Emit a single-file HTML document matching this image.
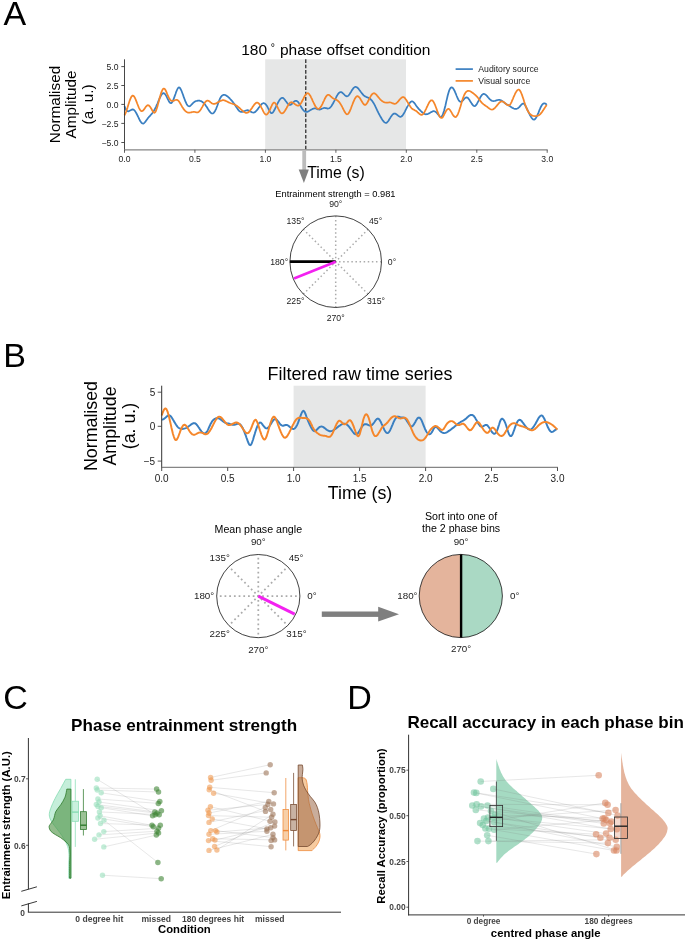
<!DOCTYPE html>
<html><head><meta charset="utf-8"><title>Figure</title>
<style>
html,body{margin:0;padding:0;background:#fff;}
body{width:685px;height:940px;overflow:hidden;font-family:"Liberation Sans",sans-serif;}
svg{display:block;font-family:"Liberation Sans",sans-serif;will-change:transform;}
</style></head><body>
<svg width="685" height="940" viewBox="0 0 685 940">
<rect width="685" height="940" fill="#fff"/>
<text x="3.4" y="24.8" font-size="34.00" text-anchor="start" font-weight="normal" fill="#000" >A</text>
<text x="335.8" y="54.5" font-size="15.50" text-anchor="middle" font-weight="normal" fill="#000" >180 <tspan font-size='10.5' dy='-3.6' dx='-0.5'>°</tspan><tspan dy='3.6' dx='0.6'> phase offset condition</tspan></text>
<rect x="265.2" y="59.3" width="140.8" height="90.5" fill="#e6e7e7"/>
<line x1="305.8" y1="59.3" x2="305.8" y2="149.8" stroke="#111" stroke-width="1.10" stroke-dasharray="3.6,1.8"/>
<path d="M124.5,106.1 L125.2,108.2 L126.0,109.8 L126.7,110.7 L127.5,111.2 L128.2,111.3 L129.0,111.1 L129.7,110.7 L130.5,110.3 L131.2,109.9 L132.0,109.6 L132.7,109.4 L133.5,109.6 L134.2,110.2 L135.0,111.0 L135.7,112.1 L136.5,113.5 L137.2,114.9 L138.0,116.5 L138.7,118.0 L139.5,119.6 L140.2,121.0 L141.0,122.1 L141.7,123.0 L142.5,123.5 L143.2,123.6 L144.0,123.2 L144.7,122.5 L145.5,121.6 L146.2,120.5 L147.0,119.4 L147.7,118.4 L148.5,117.5 L149.2,116.7 L150.0,115.9 L150.7,115.0 L151.5,114.2 L152.2,113.3 L153.0,112.2 L153.7,111.1 L154.5,109.8 L155.2,108.4 L156.0,106.8 L156.7,105.2 L157.5,103.5 L158.2,101.7 L159.0,99.9 L159.7,98.2 L160.5,96.6 L161.2,95.2 L162.0,94.1 L162.7,93.4 L163.5,93.2 L164.2,93.4 L165.0,94.1 L165.7,95.1 L166.5,96.4 L167.2,97.9 L168.0,99.5 L168.7,101.0 L169.5,102.2 L170.2,103.0 L171.0,103.2 L171.7,102.7 L172.5,101.7 L173.2,100.1 L174.0,98.2 L174.7,96.1 L175.5,94.0 L176.2,91.8 L177.0,90.0 L177.7,88.5 L178.5,87.6 L179.2,87.4 L180.0,88.0 L180.7,89.2 L181.5,90.8 L182.2,92.7 L183.0,94.8 L183.7,96.9 L184.5,99.0 L185.2,100.9 L186.0,102.7 L186.7,104.2 L187.5,105.3 L188.2,106.0 L189.0,106.3 L189.7,106.1 L190.5,105.7 L191.2,105.0 L192.0,104.2 L192.7,103.4 L193.5,102.7 L194.2,102.1 L195.0,101.6 L195.7,101.2 L196.5,101.0 L197.2,100.8 L198.0,100.6 L198.7,100.6 L199.5,100.7 L200.2,100.9 L201.0,101.1 L201.7,101.5 L202.5,102.0 L203.2,102.6 L204.0,103.4 L204.7,104.2 L205.5,105.1 L206.2,106.2 L207.0,107.3 L207.7,108.5 L208.5,109.7 L209.2,110.9 L210.0,111.9 L210.7,112.8 L211.5,113.3 L212.2,113.5 L213.0,113.4 L213.7,112.8 L214.5,111.9 L215.2,110.7 L216.0,109.1 L216.7,107.2 L217.5,105.2 L218.2,103.0 L219.0,101.0 L219.7,99.2 L220.5,97.7 L221.2,96.5 L222.0,95.7 L222.7,95.2 L223.5,94.9 L224.2,94.8 L225.0,95.0 L225.7,95.2 L226.5,95.7 L227.2,96.2 L228.0,96.8 L228.7,97.5 L229.5,98.2 L230.2,99.0 L231.0,99.8 L231.7,100.6 L232.5,101.5 L233.2,102.5 L234.0,103.5 L234.7,104.5 L235.5,105.7 L236.2,106.9 L237.0,108.0 L237.7,109.1 L238.5,110.1 L239.2,110.9 L240.0,111.4 L240.7,111.8 L241.5,111.9 L242.2,111.9 L243.0,111.7 L243.7,111.4 L244.5,111.1 L245.2,110.8 L246.0,110.5 L246.7,110.3 L247.5,110.2 L248.2,110.3 L249.0,110.6 L249.7,111.0 L250.5,111.5 L251.2,111.9 L252.0,112.3 L252.7,112.5 L253.5,112.6 L254.2,112.5 L255.0,112.1 L255.7,111.5 L256.5,110.7 L257.2,109.8 L258.0,108.9 L258.7,107.8 L259.5,106.8 L260.2,105.7 L261.0,104.8 L261.7,104.0 L262.5,103.5 L263.2,103.2 L264.0,103.2 L264.7,103.5 L265.5,104.1 L266.2,104.9 L267.0,106.0 L267.7,107.4 L268.5,108.9 L269.2,110.4 L270.0,111.7 L270.7,112.7 L271.5,113.1 L272.2,113.0 L273.0,112.3 L273.7,111.2 L274.5,109.8 L275.2,108.3 L276.0,106.7 L276.7,105.2 L277.5,103.6 L278.2,102.2 L279.0,100.9 L279.7,99.8 L280.5,98.8 L281.2,98.2 L282.0,97.9 L282.7,97.9 L283.5,98.3 L284.2,99.0 L285.0,100.0 L285.7,101.0 L286.5,102.0 L287.2,103.0 L288.0,103.9 L288.7,104.5 L289.5,104.9 L290.2,104.9 L291.0,104.6 L291.7,104.0 L292.5,103.3 L293.2,102.5 L294.0,101.7 L294.7,101.1 L295.5,100.8 L296.2,100.8 L297.0,101.1 L297.7,101.6 L298.5,102.5 L299.2,103.6 L300.0,104.8 L300.7,106.2 L301.5,107.5 L302.2,108.7 L303.0,109.7 L303.7,110.6 L304.5,111.2 L305.2,111.7 L306.0,111.9 L306.7,111.9 L307.5,111.8 L308.2,111.4 L309.0,111.0 L309.7,110.6 L310.5,110.1 L311.2,109.6 L312.0,109.2 L312.7,108.8 L313.5,108.6 L314.2,108.4 L315.0,108.4 L315.7,108.5 L316.5,108.8 L317.2,109.1 L318.0,109.3 L318.7,109.5 L319.5,109.6 L320.2,109.4 L321.0,109.2 L321.7,108.8 L322.5,108.5 L323.2,108.2 L324.0,108.0 L324.7,107.9 L325.5,108.1 L326.2,108.2 L327.0,108.4 L327.7,108.6 L328.5,108.5 L329.2,108.2 L330.0,107.7 L330.7,107.0 L331.5,106.0 L332.2,104.8 L333.0,103.5 L333.7,102.1 L334.5,100.6 L335.2,99.1 L336.0,97.6 L336.7,96.2 L337.5,94.9 L338.2,93.8 L339.0,92.9 L339.7,92.3 L340.5,92.1 L341.2,92.1 L342.0,92.5 L342.7,93.1 L343.5,93.8 L344.2,94.5 L345.0,95.3 L345.7,95.9 L346.5,96.3 L347.2,96.3 L348.0,96.0 L348.7,95.3 L349.5,94.3 L350.2,93.1 L351.0,91.9 L351.7,90.6 L352.5,89.4 L353.2,88.4 L354.0,87.6 L354.7,87.1 L355.5,86.9 L356.2,87.0 L357.0,87.4 L357.7,88.0 L358.5,88.7 L359.2,89.7 L360.0,90.7 L360.7,91.7 L361.5,92.7 L362.2,93.7 L363.0,94.6 L363.7,95.4 L364.5,96.0 L365.2,96.4 L366.0,96.8 L366.7,97.1 L367.5,97.4 L368.2,97.7 L369.0,98.1 L369.7,98.6 L370.5,99.1 L371.2,99.9 L372.0,100.7 L372.7,101.7 L373.5,102.9 L374.2,104.2 L375.0,105.7 L375.7,107.2 L376.5,108.8 L377.2,110.4 L378.0,112.0 L378.7,113.5 L379.5,114.9 L380.2,116.2 L381.0,117.5 L381.7,118.7 L382.5,119.9 L383.2,120.9 L384.0,121.8 L384.7,122.5 L385.5,122.8 L386.2,122.9 L387.0,122.4 L387.7,121.7 L388.5,120.7 L389.2,119.5 L390.0,118.3 L390.7,117.1 L391.5,116.0 L392.2,115.0 L393.0,114.2 L393.7,113.7 L394.5,113.5 L395.2,113.6 L396.0,114.0 L396.7,114.5 L397.5,115.1 L398.2,115.7 L399.0,116.3 L399.7,116.6 L400.5,116.8 L401.2,116.6 L402.0,116.1 L402.7,115.2 L403.5,114.1 L404.2,112.8 L405.0,111.3 L405.7,109.8 L406.5,108.4 L407.2,106.9 L408.0,105.6 L408.7,104.4 L409.5,103.3 L410.2,102.4 L411.0,101.7 L411.7,101.4 L412.5,101.4 L413.2,101.9 L414.0,102.6 L414.7,103.5 L415.5,104.6 L416.2,105.7 L417.0,106.7 L417.7,107.7 L418.5,108.6 L419.2,109.4 L420.0,110.2 L420.7,110.9 L421.5,111.6 L422.2,112.3 L423.0,112.9 L423.7,113.4 L424.5,113.9 L425.2,114.1 L426.0,114.3 L426.7,114.2 L427.5,114.1 L428.2,113.8 L429.0,113.4 L429.7,113.0 L430.5,112.5 L431.2,112.1 L432.0,111.7 L432.7,111.4 L433.5,111.2 L434.2,111.2 L435.0,111.5 L435.7,111.9 L436.5,112.5 L437.2,113.4 L438.0,114.3 L438.7,115.3 L439.5,116.2 L440.2,116.8 L441.0,116.9 L441.7,116.4 L442.5,115.2 L443.2,113.4 L444.0,111.0 L444.7,108.2 L445.5,105.2 L446.2,101.9 L447.0,98.6 L447.7,95.5 L448.5,92.7 L449.2,90.4 L450.0,88.8 L450.7,87.8 L451.5,87.4 L452.2,87.5 L453.0,88.2 L453.7,89.3 L454.5,90.7 L455.2,92.4 L456.0,94.2 L456.7,96.0 L457.5,97.8 L458.2,99.4 L459.0,100.7 L459.7,101.5 L460.5,101.8 L461.2,101.7 L462.0,101.3 L462.7,100.6 L463.5,99.8 L464.2,98.9 L465.0,98.2 L465.7,97.6 L466.5,97.4 L467.2,97.6 L468.0,98.1 L468.7,99.0 L469.5,100.0 L470.2,101.2 L471.0,102.4 L471.7,103.6 L472.5,104.6 L473.2,105.5 L474.0,106.0 L474.7,106.1 L475.5,105.7 L476.2,104.9 L477.0,103.7 L477.7,102.4 L478.5,100.9 L479.2,99.4 L480.0,98.0 L480.7,96.7 L481.5,95.5 L482.2,94.7 L483.0,94.1 L483.7,93.9 L484.5,94.0 L485.2,94.4 L486.0,95.0 L486.7,95.7 L487.5,96.6 L488.2,97.5 L489.0,98.3 L489.7,99.1 L490.5,99.8 L491.2,100.4 L492.0,100.8 L492.7,101.0 L493.5,101.1 L494.2,101.0 L495.0,100.8 L495.7,100.6 L496.5,100.4 L497.2,100.1 L498.0,100.0 L498.7,99.9 L499.5,99.9 L500.2,100.0 L501.0,100.3 L501.7,100.7 L502.5,101.2 L503.2,101.8 L504.0,102.4 L504.7,103.0 L505.5,103.5 L506.2,104.0 L507.0,104.5 L507.7,104.9 L508.5,105.3 L509.2,105.7 L510.0,106.2 L510.7,106.7 L511.5,107.2 L512.2,107.7 L513.0,108.1 L513.7,108.5 L514.5,108.8 L515.2,108.9 L516.0,108.9 L516.7,108.8 L517.5,108.5 L518.2,108.0 L519.0,107.4 L519.7,106.6 L520.5,105.7 L521.2,104.8 L522.0,104.1 L522.7,103.7 L523.5,103.6 L524.2,104.0 L525.0,105.0 L525.7,106.3 L526.5,107.8 L527.2,109.4 L528.0,111.0 L528.7,112.6 L529.5,114.1 L530.2,115.6 L531.0,116.9 L531.7,118.0 L532.5,118.9 L533.2,119.5 L534.0,119.7 L534.7,119.4 L535.5,118.6 L536.2,117.5 L537.0,116.1 L537.7,114.4 L538.5,112.6 L539.2,110.7 L540.0,108.9 L540.7,107.2 L541.5,105.8 L542.2,104.6 L543.0,103.8 L543.7,103.4 L544.5,103.3 L545.2,103.5 L546.0,104.0 L546.7,104.9" fill="none" stroke="#3a7fc1" stroke-width="1.75" stroke-linejoin="round"/>
<path d="M124.5,115.4 L125.2,113.9 L126.0,112.1 L126.7,109.9 L127.5,107.6 L128.2,105.2 L129.0,102.8 L129.7,100.6 L130.5,98.7 L131.2,97.1 L132.0,96.0 L132.7,95.6 L133.5,95.8 L134.2,96.6 L135.0,98.0 L135.7,99.7 L136.5,101.6 L137.2,103.5 L138.0,105.5 L138.7,107.3 L139.5,108.8 L140.2,110.1 L141.0,110.9 L141.7,111.2 L142.5,111.0 L143.2,110.4 L144.0,109.4 L144.7,108.4 L145.5,107.3 L146.2,106.3 L147.0,105.6 L147.7,105.2 L148.5,105.3 L149.2,105.8 L150.0,106.6 L150.7,107.7 L151.5,109.0 L152.2,110.4 L153.0,111.7 L153.7,112.5 L154.5,112.8 L155.2,112.2 L156.0,110.8 L156.7,108.7 L157.5,106.2 L158.2,103.4 L159.0,100.5 L159.7,97.7 L160.5,95.1 L161.2,92.7 L162.0,90.8 L162.7,89.4 L163.5,88.6 L164.2,88.6 L165.0,89.2 L165.7,90.5 L166.5,92.1 L167.2,94.0 L168.0,95.8 L168.7,97.4 L169.5,98.7 L170.2,99.8 L171.0,100.5 L171.7,100.9 L172.5,101.0 L173.2,100.9 L174.0,100.6 L174.7,100.3 L175.5,100.0 L176.2,99.9 L177.0,99.9 L177.7,100.2 L178.5,100.9 L179.2,101.8 L180.0,103.0 L180.7,104.3 L181.5,105.6 L182.2,106.9 L183.0,108.1 L183.7,109.2 L184.5,110.1 L185.2,110.9 L186.0,111.5 L186.7,112.0 L187.5,112.4 L188.2,112.6 L189.0,112.7 L189.7,112.6 L190.5,112.5 L191.2,112.3 L192.0,112.1 L192.7,112.0 L193.5,111.9 L194.2,111.9 L195.0,112.0 L195.7,112.2 L196.5,112.4 L197.2,112.4 L198.0,112.3 L198.7,111.9 L199.5,111.2 L200.2,110.3 L201.0,109.2 L201.7,107.9 L202.5,106.6 L203.2,105.2 L204.0,104.0 L204.7,102.8 L205.5,101.8 L206.2,101.1 L207.0,100.7 L207.7,100.6 L208.5,100.8 L209.2,101.2 L210.0,101.8 L210.7,102.4 L211.5,103.0 L212.2,103.5 L213.0,103.8 L213.7,103.9 L214.5,103.9 L215.2,103.7 L216.0,103.4 L216.7,103.0 L217.5,102.5 L218.2,102.1 L219.0,101.7 L219.7,101.2 L220.5,100.9 L221.2,100.6 L222.0,100.4 L222.7,100.2 L223.5,100.2 L224.2,100.3 L225.0,100.6 L225.7,100.9 L226.5,101.2 L227.2,101.6 L228.0,102.0 L228.7,102.4 L229.5,102.7 L230.2,103.0 L231.0,103.3 L231.7,103.5 L232.5,103.8 L233.2,104.0 L234.0,104.3 L234.7,104.6 L235.5,105.0 L236.2,105.4 L237.0,105.9 L237.7,106.5 L238.5,107.1 L239.2,107.8 L240.0,108.4 L240.7,109.1 L241.5,109.8 L242.2,110.5 L243.0,111.1 L243.7,111.7 L244.5,112.2 L245.2,112.6 L246.0,112.8 L246.7,112.9 L247.5,112.7 L248.2,112.4 L249.0,111.8 L249.7,111.0 L250.5,110.1 L251.2,109.1 L252.0,108.0 L252.7,106.8 L253.5,105.7 L254.2,104.7 L255.0,103.8 L255.7,103.1 L256.5,102.7 L257.2,102.6 L258.0,102.8 L258.7,103.4 L259.5,104.3 L260.2,105.5 L261.0,106.8 L261.7,108.2 L262.5,109.7 L263.2,111.2 L264.0,112.6 L264.7,113.7 L265.5,114.5 L266.2,114.7 L267.0,114.4 L267.7,113.7 L268.5,112.6 L269.2,111.2 L270.0,109.6 L270.7,107.9 L271.5,106.2 L272.2,104.6 L273.0,103.4 L273.7,102.7 L274.5,102.6 L275.2,103.2 L276.0,104.2 L276.7,105.6 L277.5,107.1 L278.2,108.7 L279.0,110.2 L279.7,111.5 L280.5,112.6 L281.2,113.2 L282.0,113.4 L282.7,113.2 L283.5,112.6 L284.2,111.8 L285.0,110.7 L285.7,109.5 L286.5,108.2 L287.2,106.8 L288.0,105.5 L288.7,104.3 L289.5,103.3 L290.2,102.6 L291.0,102.3 L291.7,102.2 L292.5,102.5 L293.2,102.9 L294.0,103.4 L294.7,104.0 L295.5,104.5 L296.2,105.0 L297.0,105.4 L297.7,105.6 L298.5,105.6 L299.2,105.3 L300.0,104.6 L300.7,103.6 L301.5,102.4 L302.2,101.0 L303.0,99.5 L303.7,98.0 L304.5,96.5 L305.2,95.3 L306.0,94.2 L306.7,93.5 L307.5,93.2 L308.2,93.3 L309.0,93.9 L309.7,94.9 L310.5,96.1 L311.2,97.6 L312.0,99.2 L312.7,100.8 L313.5,102.5 L314.2,104.0 L315.0,105.5 L315.7,106.8 L316.5,107.8 L317.2,108.4 L318.0,108.8 L318.7,108.8 L319.5,108.5 L320.2,107.7 L321.0,106.6 L321.7,105.3 L322.5,103.8 L323.2,102.2 L324.0,100.6 L324.7,99.0 L325.5,97.5 L326.2,96.3 L327.0,95.4 L327.7,94.8 L328.5,94.8 L329.2,95.0 L330.0,95.6 L330.7,96.3 L331.5,97.0 L332.2,97.7 L333.0,98.3 L333.7,98.7 L334.5,99.0 L335.2,99.3 L336.0,99.6 L336.7,100.0 L337.5,100.5 L338.2,101.1 L339.0,101.9 L339.7,102.8 L340.5,103.9 L341.2,105.1 L342.0,106.5 L342.7,108.0 L343.5,109.5 L344.2,111.0 L345.0,112.3 L345.7,113.4 L346.5,114.1 L347.2,114.3 L348.0,114.0 L348.7,113.1 L349.5,111.8 L350.2,110.2 L351.0,108.3 L351.7,106.3 L352.5,104.3 L353.2,102.4 L354.0,100.6 L354.7,99.0 L355.5,97.7 L356.2,96.7 L357.0,96.2 L357.7,96.2 L358.5,96.6 L359.2,97.3 L360.0,98.3 L360.7,99.5 L361.5,100.8 L362.2,102.1 L363.0,103.3 L363.7,104.2 L364.5,104.8 L365.2,104.9 L366.0,104.4 L366.7,103.6 L367.5,102.4 L368.2,101.0 L369.0,99.5 L369.7,98.0 L370.5,96.6 L371.2,95.4 L372.0,94.4 L372.7,93.7 L373.5,93.3 L374.2,93.2 L375.0,93.6 L375.7,94.1 L376.5,94.9 L377.2,95.8 L378.0,96.7 L378.7,97.7 L379.5,98.5 L380.2,99.3 L381.0,100.1 L381.7,100.7 L382.5,101.3 L383.2,101.7 L384.0,102.1 L384.7,102.3 L385.5,102.5 L386.2,102.5 L387.0,102.6 L387.7,102.5 L388.5,102.5 L389.2,102.4 L390.0,102.4 L390.7,102.5 L391.5,102.8 L392.2,103.1 L393.0,103.4 L393.7,103.7 L394.5,103.8 L395.2,103.8 L396.0,103.5 L396.7,102.9 L397.5,102.2 L398.2,101.4 L399.0,100.4 L399.7,99.5 L400.5,98.7 L401.2,98.0 L402.0,97.4 L402.7,97.1 L403.5,97.1 L404.2,97.5 L405.0,98.2 L405.7,99.2 L406.5,100.3 L407.2,101.5 L408.0,102.8 L408.7,104.1 L409.5,105.3 L410.2,106.4 L411.0,107.5 L411.7,108.3 L412.5,109.0 L413.2,109.4 L414.0,109.8 L414.7,110.2 L415.5,110.6 L416.2,111.0 L417.0,111.6 L417.7,112.3 L418.5,113.0 L419.2,113.7 L420.0,114.3 L420.7,114.7 L421.5,114.9 L422.2,114.7 L423.0,114.1 L423.7,113.2 L424.5,112.0 L425.2,110.7 L426.0,109.1 L426.7,107.5 L427.5,105.9 L428.2,104.3 L429.0,102.8 L429.7,101.6 L430.5,100.8 L431.2,100.3 L432.0,100.3 L432.7,100.8 L433.5,101.8 L434.2,103.1 L435.0,104.8 L435.7,106.7 L436.5,108.8 L437.2,110.9 L438.0,112.9 L438.7,114.7 L439.5,116.1 L440.2,117.2 L441.0,117.8 L441.7,117.9 L442.5,117.4 L443.2,116.4 L444.0,115.0 L444.7,113.5 L445.5,112.0 L446.2,110.7 L447.0,109.7 L447.7,109.0 L448.5,108.8 L449.2,109.2 L450.0,110.0 L450.7,111.1 L451.5,112.4 L452.2,113.7 L453.0,115.0 L453.7,116.0 L454.5,116.7 L455.2,117.1 L456.0,116.9 L456.7,116.1 L457.5,114.9 L458.2,113.3 L459.0,111.3 L459.7,109.0 L460.5,106.5 L461.2,103.9 L462.0,101.3 L462.7,98.9 L463.5,96.8 L464.2,95.0 L465.0,93.5 L465.7,92.4 L466.5,91.6 L467.2,91.1 L468.0,90.8 L468.7,90.8 L469.5,91.0 L470.2,91.3 L471.0,91.7 L471.7,92.3 L472.5,92.8 L473.2,93.3 L474.0,93.9 L474.7,94.5 L475.5,95.1 L476.2,95.8 L477.0,96.6 L477.7,97.5 L478.5,98.4 L479.2,99.4 L480.0,100.4 L480.7,101.4 L481.5,102.3 L482.2,103.1 L483.0,103.8 L483.7,104.4 L484.5,105.0 L485.2,105.6 L486.0,106.1 L486.7,106.6 L487.5,107.1 L488.2,107.7 L489.0,108.3 L489.7,108.8 L490.5,109.2 L491.2,109.5 L492.0,109.6 L492.7,109.5 L493.5,109.1 L494.2,108.5 L495.0,107.9 L495.7,107.0 L496.5,106.2 L497.2,105.2 L498.0,104.3 L498.7,103.4 L499.5,102.6 L500.2,102.0 L501.0,101.6 L501.7,101.4 L502.5,101.5 L503.2,101.8 L504.0,102.2 L504.7,102.8 L505.5,103.5 L506.2,104.2 L507.0,104.8 L507.7,105.2 L508.5,105.4 L509.2,105.3 L510.0,104.7 L510.7,103.6 L511.5,102.1 L512.2,100.4 L513.0,98.6 L513.7,96.8 L514.5,95.1 L515.2,93.5 L516.0,92.1 L516.7,91.0 L517.5,90.1 L518.2,89.6 L519.0,89.6 L519.7,90.2 L520.5,91.4 L521.2,93.0 L522.0,94.9 L522.7,97.0 L523.5,99.3 L524.2,101.7 L525.0,104.0 L525.7,106.2 L526.5,108.1 L527.2,109.8 L528.0,111.2 L528.7,112.4 L529.5,113.4 L530.2,114.2 L531.0,114.8 L531.7,115.3 L532.5,115.7 L533.2,115.9 L534.0,116.0 L534.7,116.1 L535.5,116.1 L536.2,116.0 L537.0,115.9 L537.7,115.7 L538.5,115.4 L539.2,115.0 L540.0,114.4 L540.7,113.6 L541.5,112.7 L542.2,111.7 L543.0,110.6 L543.7,109.4 L544.5,108.2 L545.2,107.1 L546.0,105.9 L546.7,104.9" fill="none" stroke="#f5862a" stroke-width="1.75" stroke-linejoin="round"/>
<line x1="124.5" y1="59.3" x2="124.5" y2="150.4" stroke="#333" stroke-width="0.90" />
<line x1="124.1" y1="149.8" x2="547.6" y2="149.8" stroke="#858585" stroke-width="1.25" />
<line x1="121.3" y1="66.6" x2="124.5" y2="66.6" stroke="#333" stroke-width="0.85" />
<text x="118.5" y="69.9" font-size="8.60" text-anchor="end" font-weight="normal" fill="#222" >5.0</text>
<line x1="121.3" y1="85.5" x2="124.5" y2="85.5" stroke="#333" stroke-width="0.85" />
<text x="118.5" y="88.8" font-size="8.60" text-anchor="end" font-weight="normal" fill="#222" >2.5</text>
<line x1="121.3" y1="104.4" x2="124.5" y2="104.4" stroke="#333" stroke-width="0.85" />
<text x="118.5" y="107.7" font-size="8.60" text-anchor="end" font-weight="normal" fill="#222" >0.0</text>
<line x1="121.3" y1="123.4" x2="124.5" y2="123.4" stroke="#333" stroke-width="0.85" />
<text x="118.5" y="126.7" font-size="8.60" text-anchor="end" font-weight="normal" fill="#222" >−2.5</text>
<line x1="121.3" y1="142.5" x2="124.5" y2="142.5" stroke="#333" stroke-width="0.85" />
<text x="118.5" y="145.8" font-size="8.60" text-anchor="end" font-weight="normal" fill="#222" >−5.0</text>
<line x1="124.5" y1="149.8" x2="124.5" y2="152.8" stroke="#444" stroke-width="0.85" />
<text x="124.5" y="161.8" font-size="8.60" text-anchor="middle" font-weight="normal" fill="#222" >0.0</text>
<line x1="194.9" y1="149.8" x2="194.9" y2="152.8" stroke="#444" stroke-width="0.85" />
<text x="194.9" y="161.8" font-size="8.60" text-anchor="middle" font-weight="normal" fill="#222" >0.5</text>
<line x1="265.4" y1="149.8" x2="265.4" y2="152.8" stroke="#444" stroke-width="0.85" />
<text x="265.4" y="161.8" font-size="8.60" text-anchor="middle" font-weight="normal" fill="#222" >1.0</text>
<line x1="335.9" y1="149.8" x2="335.9" y2="152.8" stroke="#444" stroke-width="0.85" />
<text x="335.9" y="161.8" font-size="8.60" text-anchor="middle" font-weight="normal" fill="#222" >1.5</text>
<line x1="406.3" y1="149.8" x2="406.3" y2="152.8" stroke="#444" stroke-width="0.85" />
<text x="406.3" y="161.8" font-size="8.60" text-anchor="middle" font-weight="normal" fill="#222" >2.0</text>
<line x1="476.8" y1="149.8" x2="476.8" y2="152.8" stroke="#444" stroke-width="0.85" />
<text x="476.8" y="161.8" font-size="8.60" text-anchor="middle" font-weight="normal" fill="#222" >2.5</text>
<line x1="547.2" y1="149.8" x2="547.2" y2="152.8" stroke="#444" stroke-width="0.85" />
<text x="547.2" y="161.8" font-size="8.60" text-anchor="middle" font-weight="normal" fill="#222" >3.0</text>
<text transform="translate(59.8,104.5) rotate(-90)" font-size="15.30" text-anchor="middle" font-weight="normal" fill="#000" >Normalised</text>
<text transform="translate(76.2,104.5) rotate(-90)" font-size="15.30" text-anchor="middle" font-weight="normal" fill="#000" >Amplitude</text>
<text transform="translate(93.3,104.5) rotate(-90)" font-size="15.30" text-anchor="middle" font-weight="normal" fill="#000" >(a. u.)</text>
<line x1="455.6" y1="69.1" x2="472.9" y2="69.1" stroke="#3a7fc1" stroke-width="1.70" />
<line x1="455.6" y1="80.9" x2="472.9" y2="80.9" stroke="#f5862a" stroke-width="1.70" />
<text x="478.3" y="72.2" font-size="8.70" text-anchor="start" font-weight="normal" fill="#222" >Auditory source</text>
<text x="478.3" y="84.0" font-size="8.70" text-anchor="start" font-weight="normal" fill="#222" >Visual source</text>
<rect x="302.3" y="150.3" width="3.8" height="19.8" fill="#bcbcbc"/>
<path d="M298.7,169.6 L308.9,169.6 L303.9,182.9 Z" fill="#7f7f7f"/>
<text x="307.2" y="177.5" font-size="15.85" text-anchor="start" font-weight="normal" fill="#000" >Time (s)</text>
<text x="335.4" y="197.0" font-size="9.30" text-anchor="middle" font-weight="normal" fill="#000" >Entrainment strength = 0.981</text>
<line x1="335.7" y1="261.7" x2="381.5" y2="261.7" stroke="#ababab" stroke-width="1.50" stroke-dasharray="1.50,2.60" stroke-dashoffset="0.75"/>
<line x1="335.7" y1="261.7" x2="368.1" y2="229.3" stroke="#ababab" stroke-width="1.50" stroke-dasharray="1.50,2.60" stroke-dashoffset="0.75"/>
<line x1="335.7" y1="261.7" x2="335.7" y2="215.9" stroke="#ababab" stroke-width="1.50" stroke-dasharray="1.50,2.60" stroke-dashoffset="0.75"/>
<line x1="335.7" y1="261.7" x2="303.3" y2="229.3" stroke="#ababab" stroke-width="1.50" stroke-dasharray="1.50,2.60" stroke-dashoffset="0.75"/>
<line x1="335.7" y1="261.7" x2="289.9" y2="261.7" stroke="#ababab" stroke-width="1.50" stroke-dasharray="1.50,2.60" stroke-dashoffset="0.75"/>
<line x1="335.7" y1="261.7" x2="303.3" y2="294.1" stroke="#ababab" stroke-width="1.50" stroke-dasharray="1.50,2.60" stroke-dashoffset="0.75"/>
<line x1="335.7" y1="261.7" x2="335.7" y2="307.5" stroke="#ababab" stroke-width="1.50" stroke-dasharray="1.50,2.60" stroke-dashoffset="0.75"/>
<line x1="335.7" y1="261.7" x2="368.1" y2="294.1" stroke="#ababab" stroke-width="1.50" stroke-dasharray="1.50,2.60" stroke-dashoffset="0.75"/>
<line x1="335.7" y1="261.7" x2="289.9" y2="261.7" stroke="#000" stroke-width="2.80" />
<line x1="335.7" y1="261.7" x2="294.0" y2="278.5" stroke="#f321f0" stroke-width="2.60" />
<circle cx="335.7" cy="261.7" r="45.8" fill="none" stroke="#111" stroke-width="0.8"/>
<text x="335.7" y="207.3" font-size="8.70" text-anchor="middle" font-weight="normal" fill="#222" >90°</text>
<text x="295.5" y="224.1" font-size="8.70" text-anchor="middle" font-weight="normal" fill="#222" >135°</text>
<text x="375.6" y="224.1" font-size="8.70" text-anchor="middle" font-weight="normal" fill="#222" >45°</text>
<text x="279.2" y="264.5" font-size="8.70" text-anchor="middle" font-weight="normal" fill="#222" >180°</text>
<text x="392.0" y="264.5" font-size="8.70" text-anchor="middle" font-weight="normal" fill="#222" >0°</text>
<text x="295.5" y="304.4" font-size="8.70" text-anchor="middle" font-weight="normal" fill="#222" >225°</text>
<text x="376.0" y="304.4" font-size="8.70" text-anchor="middle" font-weight="normal" fill="#222" >315°</text>
<text x="335.7" y="320.7" font-size="8.70" text-anchor="middle" font-weight="normal" fill="#222" >270°</text>
<text x="3.3" y="367.0" font-size="34.00" text-anchor="start" font-weight="normal" fill="#000" >B</text>
<rect x="293.6" y="385.7" width="132" height="81.7" fill="#e6e7e7"/>
<path d="M161.7,419.5 L162.4,419.6 L163.2,419.4 L163.9,418.9 L164.7,418.3 L165.4,417.7 L166.2,417.0 L166.9,416.3 L167.7,415.8 L168.4,415.4 L169.2,415.3 L169.9,415.6 L170.7,416.2 L171.4,417.1 L172.2,418.2 L172.9,419.5 L173.7,420.8 L174.4,422.1 L175.2,423.3 L175.9,424.5 L176.7,425.6 L177.4,426.6 L178.2,427.4 L178.9,428.0 L179.7,428.4 L180.4,428.7 L181.2,428.8 L181.9,428.9 L182.7,428.9 L183.4,428.8 L184.2,428.6 L184.9,428.4 L185.7,428.1 L186.4,427.8 L187.2,427.3 L187.9,426.9 L188.7,426.3 L189.4,425.8 L190.2,425.2 L190.9,424.6 L191.7,424.1 L192.4,423.7 L193.2,423.3 L193.9,423.1 L194.7,423.2 L195.4,423.5 L196.2,424.1 L196.9,425.0 L197.7,425.9 L198.4,427.0 L199.2,428.1 L199.9,429.3 L200.7,430.3 L201.4,431.3 L202.2,432.2 L202.9,432.9 L203.7,433.3 L204.4,433.4 L205.2,433.3 L205.9,432.8 L206.7,432.0 L207.4,430.9 L208.2,429.4 L208.9,427.7 L209.7,426.0 L210.4,424.3 L211.2,422.9 L211.9,421.7 L212.7,420.7 L213.4,419.9 L214.2,419.3 L214.9,418.8 L215.7,418.5 L216.4,418.3 L217.2,418.2 L217.9,418.2 L218.7,418.4 L219.4,418.7 L220.2,419.1 L220.9,419.6 L221.7,420.2 L222.4,420.9 L223.2,421.5 L223.9,422.0 L224.7,422.5 L225.4,422.9 L226.2,423.1 L226.9,423.3 L227.7,423.4 L228.4,423.5 L229.2,423.7 L229.9,423.9 L230.7,424.1 L231.4,424.4 L232.2,424.7 L232.9,424.8 L233.7,424.9 L234.4,424.8 L235.2,424.6 L235.9,424.3 L236.7,424.0 L237.4,423.8 L238.2,423.7 L238.9,423.8 L239.7,424.1 L240.4,424.7 L241.2,425.6 L241.9,426.7 L242.7,428.0 L243.4,429.6 L244.2,431.4 L244.9,433.3 L245.7,435.3 L246.4,437.5 L247.2,439.6 L247.9,441.7 L248.7,443.5 L249.4,444.7 L250.2,445.2 L250.9,444.8 L251.7,443.5 L252.4,441.5 L253.2,439.2 L253.9,436.6 L254.7,434.1 L255.4,431.7 L256.2,429.4 L256.9,427.3 L257.7,425.5 L258.4,424.0 L259.2,423.0 L259.9,422.5 L260.7,422.6 L261.4,423.2 L262.2,424.1 L262.9,425.1 L263.7,426.1 L264.4,427.0 L265.2,427.8 L265.9,428.2 L266.7,428.4 L267.4,428.2 L268.2,427.7 L268.9,426.9 L269.7,425.8 L270.4,424.7 L271.2,423.4 L271.9,422.2 L272.7,421.1 L273.4,420.1 L274.2,419.4 L274.9,419.1 L275.7,419.1 L276.4,419.6 L277.2,420.3 L277.9,421.1 L278.7,422.1 L279.4,423.1 L280.2,424.1 L280.9,424.9 L281.7,425.4 L282.4,425.7 L283.2,425.7 L283.9,425.5 L284.7,425.3 L285.4,425.0 L286.2,424.9 L286.9,425.0 L287.7,425.3 L288.4,425.8 L289.2,426.4 L289.9,427.0 L290.7,427.7 L291.4,428.2 L292.2,428.6 L292.9,428.9 L293.7,428.9 L294.4,428.6 L295.2,428.0 L295.9,427.1 L296.7,425.8 L297.4,424.3 L298.2,422.4 L298.9,420.4 L299.7,418.3 L300.4,416.2 L301.2,414.2 L301.9,412.5 L302.7,411.3 L303.4,410.8 L304.2,411.3 L304.9,412.6 L305.7,414.5 L306.4,416.5 L307.2,418.6 L307.9,420.5 L308.7,422.3 L309.4,424.0 L310.2,425.6 L310.9,427.1 L311.7,428.4 L312.4,429.6 L313.2,430.5 L313.9,431.0 L314.7,431.2 L315.4,430.9 L316.2,430.4 L316.9,429.6 L317.7,428.8 L318.4,428.0 L319.2,427.4 L319.9,426.9 L320.7,426.6 L321.4,426.5 L322.2,426.6 L322.9,426.9 L323.7,427.4 L324.4,427.9 L325.2,428.5 L325.9,429.1 L326.7,429.7 L327.4,430.2 L328.2,430.6 L328.9,431.0 L329.7,431.2 L330.4,431.2 L331.2,431.1 L331.9,430.9 L332.7,430.6 L333.4,430.2 L334.2,429.7 L334.9,429.2 L335.7,428.6 L336.4,428.1 L337.2,427.5 L337.9,426.9 L338.7,426.3 L339.4,425.8 L340.2,425.3 L340.9,424.8 L341.7,424.4 L342.4,424.0 L343.2,423.8 L343.9,423.7 L344.7,423.7 L345.4,423.9 L346.2,424.2 L346.9,424.7 L347.7,425.3 L348.4,426.0 L349.2,426.9 L349.9,427.8 L350.7,428.8 L351.4,429.9 L352.2,431.0 L352.9,432.0 L353.7,433.0 L354.4,433.7 L355.2,434.2 L355.9,434.3 L356.7,434.1 L357.4,433.6 L358.2,432.9 L358.9,431.9 L359.7,430.6 L360.4,429.3 L361.2,428.0 L361.9,426.7 L362.7,425.7 L363.4,425.0 L364.2,424.5 L364.9,424.2 L365.7,424.1 L366.4,424.2 L367.2,424.5 L367.9,424.8 L368.7,425.2 L369.4,425.5 L370.2,425.6 L370.9,425.5 L371.7,425.2 L372.4,424.5 L373.2,423.7 L373.9,422.8 L374.7,421.7 L375.4,420.6 L376.2,419.6 L376.9,418.9 L377.7,418.6 L378.4,418.8 L379.2,419.4 L379.9,420.4 L380.7,421.7 L381.4,423.3 L382.2,425.0 L382.9,426.7 L383.7,428.4 L384.4,429.9 L385.2,431.3 L385.9,432.3 L386.7,432.9 L387.4,433.1 L388.2,432.8 L388.9,432.1 L389.7,431.0 L390.4,429.6 L391.2,427.9 L391.9,426.2 L392.7,424.3 L393.4,422.5 L394.2,420.9 L394.9,419.5 L395.7,418.3 L396.4,417.4 L397.2,416.8 L397.9,416.6 L398.7,416.7 L399.4,416.9 L400.2,417.2 L400.9,417.4 L401.7,417.5 L402.4,417.5 L403.2,417.5 L403.9,417.6 L404.7,418.0 L405.4,418.8 L406.2,419.7 L406.9,420.9 L407.7,422.1 L408.4,423.3 L409.2,424.5 L409.9,425.5 L410.7,426.2 L411.4,426.5 L412.2,426.3 L412.9,425.7 L413.7,424.7 L414.4,423.5 L415.2,422.2 L415.9,420.8 L416.7,419.5 L417.4,418.4 L418.2,417.8 L418.9,417.6 L419.7,417.8 L420.4,418.5 L421.2,419.7 L421.9,421.2 L422.7,423.1 L423.4,425.0 L424.2,426.9 L424.9,428.7 L425.7,430.3 L426.4,431.7 L427.2,432.8 L427.9,433.6 L428.7,434.2 L429.4,434.3 L430.2,434.1 L430.9,433.5 L431.7,432.5 L432.4,431.2 L433.2,429.7 L433.9,428.4 L434.7,427.4 L435.4,426.9 L436.2,426.9 L436.9,427.4 L437.7,428.1 L438.4,429.0 L439.2,429.9 L439.9,430.7 L440.7,431.5 L441.4,432.1 L442.2,432.5 L442.9,432.9 L443.7,433.0 L444.4,433.1 L445.2,432.9 L445.9,432.7 L446.7,432.3 L447.4,431.9 L448.2,431.4 L448.9,430.9 L449.7,430.4 L450.4,429.9 L451.2,429.3 L451.9,428.7 L452.7,428.2 L453.4,427.6 L454.2,427.0 L454.9,426.3 L455.7,425.7 L456.4,425.1 L457.2,424.4 L457.9,423.8 L458.7,423.3 L459.4,422.7 L460.2,422.3 L460.9,421.8 L461.7,421.4 L462.4,421.0 L463.2,420.6 L463.9,420.2 L464.7,419.7 L465.4,419.1 L466.2,418.5 L466.9,417.8 L467.7,417.1 L468.4,416.4 L469.2,415.8 L469.9,415.3 L470.7,415.0 L471.4,414.9 L472.2,415.0 L472.9,415.3 L473.7,415.9 L474.4,416.8 L475.2,417.9 L475.9,419.2 L476.7,420.5 L477.4,421.9 L478.2,423.2 L478.9,424.5 L479.7,425.5 L480.4,426.2 L481.2,426.6 L481.9,426.6 L482.7,426.5 L483.4,426.1 L484.2,425.7 L484.9,425.2 L485.7,424.9 L486.4,424.9 L487.2,425.2 L487.9,426.0 L488.7,427.0 L489.4,428.1 L490.2,429.3 L490.9,430.5 L491.7,431.6 L492.4,432.6 L493.2,433.3 L493.9,433.8 L494.7,433.8 L495.4,433.3 L496.2,432.3 L496.9,430.8 L497.7,428.9 L498.4,426.6 L499.2,424.2 L499.9,421.8 L500.7,420.0 L501.4,419.0 L502.2,418.7 L502.9,419.1 L503.7,419.9 L504.4,421.1 L505.2,422.8 L505.9,424.8 L506.7,427.2 L507.4,429.6 L508.2,432.0 L508.9,433.9 L509.7,435.3 L510.4,436.1 L511.2,436.1 L511.9,435.3 L512.7,433.9 L513.4,432.0 L514.2,429.9 L514.9,427.7 L515.7,425.6 L516.4,423.7 L517.2,422.1 L517.9,420.9 L518.7,420.1 L519.4,419.8 L520.2,419.9 L520.9,420.4 L521.7,421.1 L522.4,422.1 L523.2,423.1 L523.9,424.2 L524.7,425.2 L525.4,426.2 L526.2,427.1 L526.9,427.9 L527.7,428.6 L528.4,429.1 L529.2,429.5 L529.9,429.6 L530.7,429.4 L531.4,429.0 L532.2,428.5 L532.9,427.7 L533.7,426.7 L534.4,425.6 L535.2,424.3 L535.9,423.0 L536.7,421.6 L537.4,420.2 L538.2,418.8 L538.9,417.6 L539.7,416.6 L540.4,415.9 L541.2,415.5 L541.9,415.5 L542.7,416.1 L543.4,417.2 L544.2,418.5 L544.9,420.1 L545.7,421.9 L546.4,423.7 L547.2,425.6 L547.9,427.3 L548.7,428.8 L549.4,430.1 L550.2,431.1 L550.9,431.7 L551.7,432.0 L552.4,431.9 L553.2,431.6 L553.9,431.0 L554.7,430.4 L555.4,429.8 L556.2,429.3 L556.9,428.9 L557.3,428.9" fill="none" stroke="#3a7fc1" stroke-width="1.95" stroke-linejoin="round"/>
<path d="M161.7,415.5 L162.4,413.4 L163.2,411.4 L163.9,409.9 L164.7,408.8 L165.4,408.4 L166.2,408.8 L166.9,410.1 L167.7,412.0 L168.4,414.6 L169.2,417.5 L169.9,420.7 L170.7,424.1 L171.4,427.4 L172.2,430.7 L172.9,433.7 L173.7,436.3 L174.4,438.3 L175.2,439.7 L175.9,440.1 L176.7,439.7 L177.4,438.6 L178.2,436.9 L178.9,435.0 L179.7,432.9 L180.4,430.9 L181.2,429.0 L181.9,427.4 L182.7,426.1 L183.4,425.2 L184.2,424.8 L184.9,424.8 L185.7,425.3 L186.4,426.2 L187.2,427.3 L187.9,428.5 L188.7,429.8 L189.4,431.0 L190.2,432.1 L190.9,433.0 L191.7,433.8 L192.4,434.4 L193.2,434.7 L193.9,434.8 L194.7,434.7 L195.4,434.4 L196.2,434.0 L196.9,433.6 L197.7,433.2 L198.4,432.8 L199.2,432.6 L199.9,432.5 L200.7,432.5 L201.4,432.6 L202.2,432.9 L202.9,433.2 L203.7,433.6 L204.4,434.0 L205.2,434.2 L205.9,434.2 L206.7,434.1 L207.4,433.7 L208.2,433.1 L208.9,432.2 L209.7,431.2 L210.4,430.1 L211.2,428.8 L211.9,427.3 L212.7,425.8 L213.4,424.3 L214.2,422.8 L214.9,421.4 L215.7,420.1 L216.4,418.9 L217.2,417.9 L217.9,417.2 L218.7,416.8 L219.4,416.7 L220.2,416.9 L220.9,417.3 L221.7,418.0 L222.4,418.8 L223.2,419.7 L223.9,420.7 L224.7,421.6 L225.4,422.5 L226.2,423.4 L226.9,424.1 L227.7,424.6 L228.4,425.0 L229.2,425.1 L229.9,425.0 L230.7,424.8 L231.4,424.5 L232.2,424.1 L232.9,423.7 L233.7,423.3 L234.4,423.0 L235.2,422.7 L235.9,422.5 L236.7,422.5 L237.4,422.7 L238.2,423.1 L238.9,423.6 L239.7,424.3 L240.4,425.2 L241.2,426.2 L241.9,427.3 L242.7,428.4 L243.4,429.5 L244.2,430.6 L244.9,431.6 L245.7,432.4 L246.4,433.0 L247.2,433.2 L247.9,433.1 L248.7,432.6 L249.4,431.7 L250.2,430.4 L250.9,428.9 L251.7,427.0 L252.4,425.0 L253.2,423.1 L253.9,421.4 L254.7,420.2 L255.4,419.7 L256.2,420.2 L256.9,421.4 L257.7,423.3 L258.4,425.5 L259.2,427.9 L259.9,430.3 L260.7,432.6 L261.4,434.8 L262.2,436.7 L262.9,438.2 L263.7,439.2 L264.4,439.6 L265.2,439.1 L265.9,437.9 L266.7,436.0 L267.4,433.7 L268.2,431.1 L268.9,428.4 L269.7,425.8 L270.4,423.3 L271.2,421.0 L271.9,419.1 L272.7,417.7 L273.4,416.8 L274.2,416.7 L274.9,417.3 L275.7,418.6 L276.4,420.3 L277.2,422.2 L277.9,424.3 L278.7,426.4 L279.4,428.4 L280.2,430.4 L280.9,432.2 L281.7,433.9 L282.4,435.3 L283.2,436.4 L283.9,437.3 L284.7,437.7 L285.4,437.7 L286.2,437.2 L286.9,436.5 L287.7,435.4 L288.4,434.1 L289.2,432.7 L289.9,431.2 L290.7,429.6 L291.4,428.0 L292.2,426.5 L292.9,424.9 L293.7,423.5 L294.4,422.1 L295.2,420.9 L295.9,419.9 L296.7,419.0 L297.4,418.4 L298.2,418.0 L298.9,417.8 L299.7,417.7 L300.4,417.8 L301.2,417.8 L301.9,417.9 L302.7,417.9 L303.4,417.9 L304.2,417.9 L304.9,418.0 L305.7,418.1 L306.4,418.3 L307.2,418.7 L307.9,419.1 L308.7,419.8 L309.4,420.7 L310.2,421.9 L310.9,423.4 L311.7,425.0 L312.4,426.6 L313.2,428.1 L313.9,429.3 L314.7,430.4 L315.4,431.3 L316.2,432.0 L316.9,432.7 L317.7,433.3 L318.4,433.8 L319.2,434.3 L319.9,434.8 L320.7,435.1 L321.4,435.4 L322.2,435.5 L322.9,435.6 L323.7,435.7 L324.4,435.8 L325.2,435.9 L325.9,436.0 L326.7,436.3 L327.4,436.6 L328.2,436.8 L328.9,436.9 L329.7,436.8 L330.4,436.4 L331.2,435.6 L331.9,434.4 L332.7,433.0 L333.4,431.4 L334.2,429.6 L334.9,427.8 L335.7,426.0 L336.4,424.3 L337.2,422.9 L337.9,421.7 L338.7,421.0 L339.4,420.7 L340.2,420.9 L340.9,421.5 L341.7,422.3 L342.4,423.1 L343.2,423.8 L343.9,424.2 L344.7,424.3 L345.4,424.1 L346.2,423.6 L346.9,422.8 L347.7,421.8 L348.4,421.0 L349.2,420.4 L349.9,420.2 L350.7,420.6 L351.4,421.6 L352.2,422.9 L352.9,424.6 L353.7,426.5 L354.4,428.6 L355.2,430.7 L355.9,432.7 L356.7,434.5 L357.4,435.7 L358.2,436.3 L358.9,435.8 L359.7,434.2 L360.4,431.7 L361.2,428.7 L361.9,425.4 L362.7,422.2 L363.4,419.3 L364.2,417.0 L364.9,415.3 L365.7,414.4 L366.4,414.3 L367.2,414.9 L367.9,416.1 L368.7,417.9 L369.4,420.3 L370.2,423.0 L370.9,426.0 L371.7,428.9 L372.4,431.4 L373.2,433.4 L373.9,434.8 L374.7,435.8 L375.4,436.1 L376.2,436.1 L376.9,435.5 L377.7,434.7 L378.4,433.6 L379.2,432.3 L379.9,431.0 L380.7,429.7 L381.4,428.4 L382.2,427.3 L382.9,426.5 L383.7,425.8 L384.4,425.2 L385.2,424.7 L385.9,424.0 L386.7,423.3 L387.4,422.5 L388.2,421.6 L388.9,420.6 L389.7,419.7 L390.4,418.8 L391.2,418.0 L391.9,417.3 L392.7,416.8 L393.4,416.4 L394.2,416.3 L394.9,416.3 L395.7,416.5 L396.4,416.8 L397.2,417.2 L397.9,417.6 L398.7,418.0 L399.4,418.3 L400.2,418.4 L400.9,418.4 L401.7,418.3 L402.4,418.1 L403.2,417.9 L403.9,417.8 L404.7,417.8 L405.4,418.0 L406.2,418.5 L406.9,419.2 L407.7,420.3 L408.4,421.8 L409.2,423.4 L409.9,425.2 L410.7,427.0 L411.4,428.9 L412.2,430.7 L412.9,432.4 L413.7,434.0 L414.4,435.4 L415.2,436.5 L415.9,437.5 L416.7,438.3 L417.4,439.0 L418.2,439.6 L418.9,440.0 L419.7,440.3 L420.4,440.5 L421.2,440.5 L421.9,440.4 L422.7,440.2 L423.4,439.8 L424.2,439.2 L424.9,438.4 L425.7,437.5 L426.4,436.3 L427.2,435.0 L427.9,433.7 L428.7,432.4 L429.4,431.2 L430.2,430.1 L430.9,429.2 L431.7,428.4 L432.4,427.7 L433.2,427.0 L433.9,426.6 L434.7,426.2 L435.4,426.0 L436.2,426.1 L436.9,426.4 L437.7,426.9 L438.4,427.5 L439.2,428.1 L439.9,428.8 L440.7,429.4 L441.4,429.8 L442.2,429.9 L442.9,429.6 L443.7,428.9 L444.4,427.8 L445.2,426.5 L445.9,425.3 L446.7,424.1 L447.4,423.2 L448.2,422.5 L448.9,421.9 L449.7,421.5 L450.4,421.2 L451.2,421.1 L451.9,421.1 L452.7,421.4 L453.4,421.8 L454.2,422.4 L454.9,423.1 L455.7,423.8 L456.4,424.3 L457.2,424.8 L457.9,425.0 L458.7,425.1 L459.4,425.0 L460.2,424.7 L460.9,424.3 L461.7,424.0 L462.4,423.7 L463.2,423.7 L463.9,424.1 L464.7,424.7 L465.4,425.5 L466.2,426.5 L466.9,427.5 L467.7,428.5 L468.4,429.3 L469.2,430.0 L469.9,430.3 L470.7,430.1 L471.4,429.6 L472.2,428.8 L472.9,427.7 L473.7,426.5 L474.4,425.3 L475.2,424.1 L475.9,423.1 L476.7,422.4 L477.4,422.1 L478.2,422.1 L478.9,422.6 L479.7,423.5 L480.4,424.6 L481.2,426.0 L481.9,427.3 L482.7,428.5 L483.4,429.6 L484.2,430.6 L484.9,431.4 L485.7,432.1 L486.4,432.7 L487.2,432.9 L487.9,432.8 L488.7,432.1 L489.4,431.1 L490.2,429.9 L490.9,428.8 L491.7,428.0 L492.4,427.6 L493.2,427.7 L493.9,428.2 L494.7,429.0 L495.4,430.1 L496.2,431.2 L496.9,432.4 L497.7,433.4 L498.4,434.3 L499.2,435.0 L499.9,435.6 L500.7,435.9 L501.4,436.0 L502.2,435.8 L502.9,435.4 L503.7,434.7 L504.4,433.8 L505.2,432.6 L505.9,431.3 L506.7,430.0 L507.4,428.7 L508.2,427.5 L508.9,426.4 L509.7,425.5 L510.4,424.7 L511.2,424.1 L511.9,423.7 L512.7,423.4 L513.4,423.2 L514.2,423.2 L514.9,423.3 L515.7,423.6 L516.4,424.0 L517.2,424.4 L517.9,424.8 L518.7,425.2 L519.4,425.5 L520.2,425.7 L520.9,426.0 L521.7,426.2 L522.4,426.4 L523.2,426.7 L523.9,426.9 L524.7,427.2 L525.4,427.4 L526.2,427.8 L526.9,428.1 L527.7,428.5 L528.4,428.9 L529.2,429.4 L529.9,429.7 L530.7,430.0 L531.4,430.2 L532.2,430.3 L532.9,430.1 L533.7,429.8 L534.4,429.3 L535.2,428.8 L535.9,428.1 L536.7,427.4 L537.4,426.6 L538.2,425.8 L538.9,425.1 L539.7,424.4 L540.4,423.8 L541.2,423.3 L541.9,422.9 L542.7,422.5 L543.4,422.3 L544.2,422.1 L544.9,422.0 L545.7,422.0 L546.4,422.1 L547.2,422.3 L547.9,422.5 L548.7,422.8 L549.4,423.2 L550.2,423.6 L550.9,424.0 L551.7,424.5 L552.4,425.0 L553.2,425.6 L553.9,426.2 L554.7,426.9 L555.4,427.6 L556.2,428.4 L556.9,429.1 L557.3,429.6" fill="none" stroke="#f5862a" stroke-width="1.95" stroke-linejoin="round"/>
<line x1="161.7" y1="385.7" x2="161.7" y2="468.1" stroke="#333" stroke-width="1.00" />
<line x1="161.3" y1="467.4" x2="557.9" y2="467.4" stroke="#858585" stroke-width="1.40" />
<line x1="157.7" y1="392.2" x2="161.7" y2="392.2" stroke="#444" stroke-width="0.90" />
<text x="155.2" y="395.9" font-size="10.00" text-anchor="end" font-weight="normal" fill="#222" >5</text>
<line x1="157.7" y1="426.3" x2="161.7" y2="426.3" stroke="#444" stroke-width="0.90" />
<text x="155.2" y="430.0" font-size="10.00" text-anchor="end" font-weight="normal" fill="#222" >0</text>
<line x1="157.7" y1="461.1" x2="161.7" y2="461.1" stroke="#444" stroke-width="0.90" />
<text x="155.2" y="464.8" font-size="10.00" text-anchor="end" font-weight="normal" fill="#222" >−5</text>
<line x1="161.7" y1="467.4" x2="161.7" y2="471.0" stroke="#444" stroke-width="0.95" />
<text x="161.7" y="481.8" font-size="10.00" text-anchor="middle" font-weight="normal" fill="#222" >0.0</text>
<line x1="227.7" y1="467.4" x2="227.7" y2="471.0" stroke="#444" stroke-width="0.95" />
<text x="227.7" y="481.8" font-size="10.00" text-anchor="middle" font-weight="normal" fill="#222" >0.5</text>
<line x1="293.6" y1="467.4" x2="293.6" y2="471.0" stroke="#444" stroke-width="0.95" />
<text x="293.6" y="481.8" font-size="10.00" text-anchor="middle" font-weight="normal" fill="#222" >1.0</text>
<line x1="359.6" y1="467.4" x2="359.6" y2="471.0" stroke="#444" stroke-width="0.95" />
<text x="359.6" y="481.8" font-size="10.00" text-anchor="middle" font-weight="normal" fill="#222" >1.5</text>
<line x1="425.6" y1="467.4" x2="425.6" y2="471.0" stroke="#444" stroke-width="0.95" />
<text x="425.6" y="481.8" font-size="10.00" text-anchor="middle" font-weight="normal" fill="#222" >2.0</text>
<line x1="491.5" y1="467.4" x2="491.5" y2="471.0" stroke="#444" stroke-width="0.95" />
<text x="491.5" y="481.8" font-size="10.00" text-anchor="middle" font-weight="normal" fill="#222" >2.5</text>
<line x1="557.5" y1="467.4" x2="557.5" y2="471.0" stroke="#444" stroke-width="0.95" />
<text x="557.5" y="481.8" font-size="10.00" text-anchor="middle" font-weight="normal" fill="#222" >3.0</text>
<text x="360.0" y="380.0" font-size="17.90" text-anchor="middle" font-weight="normal" fill="#000" >Filtered raw time series</text>
<text x="360.0" y="499.3" font-size="17.80" text-anchor="middle" font-weight="normal" fill="#000" >Time (s)</text>
<text transform="translate(97.2,426.0) rotate(-90)" font-size="17.80" text-anchor="middle" font-weight="normal" fill="#000" >Normalised</text>
<text transform="translate(116.2,426.0) rotate(-90)" font-size="17.80" text-anchor="middle" font-weight="normal" fill="#000" >Amplitude</text>
<text transform="translate(134.8,426.0) rotate(-90)" font-size="17.80" text-anchor="middle" font-weight="normal" fill="#000" >(a. u.)</text>
<text x="258.3" y="532.8" font-size="10.65" text-anchor="middle" font-weight="normal" fill="#000" >Mean phase angle</text>
<line x1="258.3" y1="596.1" x2="299.9" y2="596.1" stroke="#ababab" stroke-width="1.75" stroke-dasharray="1.75,2.95" stroke-dashoffset="0.88"/>
<line x1="258.3" y1="596.1" x2="287.7" y2="566.7" stroke="#ababab" stroke-width="1.75" stroke-dasharray="1.75,2.95" stroke-dashoffset="0.88"/>
<line x1="258.3" y1="596.1" x2="258.3" y2="554.5" stroke="#ababab" stroke-width="1.75" stroke-dasharray="1.75,2.95" stroke-dashoffset="0.88"/>
<line x1="258.3" y1="596.1" x2="228.9" y2="566.7" stroke="#ababab" stroke-width="1.75" stroke-dasharray="1.75,2.95" stroke-dashoffset="0.88"/>
<line x1="258.3" y1="596.1" x2="216.7" y2="596.1" stroke="#ababab" stroke-width="1.75" stroke-dasharray="1.75,2.95" stroke-dashoffset="0.88"/>
<line x1="258.3" y1="596.1" x2="228.9" y2="625.5" stroke="#ababab" stroke-width="1.75" stroke-dasharray="1.75,2.95" stroke-dashoffset="0.88"/>
<line x1="258.3" y1="596.1" x2="258.3" y2="637.7" stroke="#ababab" stroke-width="1.75" stroke-dasharray="1.75,2.95" stroke-dashoffset="0.88"/>
<line x1="258.3" y1="596.1" x2="287.7" y2="625.5" stroke="#ababab" stroke-width="1.75" stroke-dasharray="1.75,2.95" stroke-dashoffset="0.88"/>
<line x1="258.3" y1="596.1" x2="294.7" y2="614.1" stroke="#f321f0" stroke-width="3.00" />
<circle cx="258.3" cy="596.1" r="41.6" fill="none" stroke="#111" stroke-width="0.8"/>
<text x="258.3" y="545.0" font-size="9.80" text-anchor="middle" font-weight="normal" fill="#222" >90°</text>
<text x="219.7" y="560.9" font-size="9.80" text-anchor="middle" font-weight="normal" fill="#222" >135°</text>
<text x="296.1" y="560.9" font-size="9.80" text-anchor="middle" font-weight="normal" fill="#222" >45°</text>
<text x="204.1" y="599.3" font-size="9.80" text-anchor="middle" font-weight="normal" fill="#222" >180°</text>
<text x="312.0" y="599.3" font-size="9.80" text-anchor="middle" font-weight="normal" fill="#222" >0°</text>
<text x="219.7" y="636.9" font-size="9.80" text-anchor="middle" font-weight="normal" fill="#222" >225°</text>
<text x="296.5" y="636.9" font-size="9.80" text-anchor="middle" font-weight="normal" fill="#222" >315°</text>
<text x="258.3" y="653.0" font-size="9.80" text-anchor="middle" font-weight="normal" fill="#222" >270°</text>
<rect x="321.8" y="611.5" width="58" height="5.4" fill="#7f7f7f"/>
<path d="M378.2,606.8 L399,614.2 L378.2,621.6 Z" fill="#7f7f7f"/>
<text x="461.1" y="520.1" font-size="10.65" text-anchor="middle" font-weight="normal" fill="#000" >Sort into one of</text>
<text x="461.1" y="532.3" font-size="10.65" text-anchor="middle" font-weight="normal" fill="#000" >the 2 phase bins</text>
<path d="M460.8,554.4 A41.6,41.6 0 0 0 460.8,637.6 Z" fill="#e4b49c"/>
<path d="M460.8,554.4 A41.6,41.6 0 0 1 460.8,637.6 Z" fill="#aad9c4"/>
<circle cx="460.8" cy="596.0" r="41.6" fill="none" stroke="#111" stroke-width="0.8"/>
<line x1="461.1" y1="554.4" x2="461.1" y2="637.6" stroke="#000" stroke-width="2.40" />
<text x="461.1" y="545.1" font-size="9.80" text-anchor="middle" font-weight="normal" fill="#222" >90°</text>
<text x="407.4" y="599.1" font-size="9.80" text-anchor="middle" font-weight="normal" fill="#222" >180°</text>
<text x="514.8" y="599.1" font-size="9.80" text-anchor="middle" font-weight="normal" fill="#222" >0°</text>
<text x="461.1" y="652.4" font-size="9.80" text-anchor="middle" font-weight="normal" fill="#222" >270°</text>
<text x="3.3" y="709.3" font-size="34.00" text-anchor="start" font-weight="normal" fill="#000" >C</text>
<text x="184.1" y="731.4" font-size="17.10" text-anchor="middle" font-weight="bold" fill="#000" >Phase entrainment strength</text>
<line x1="28.4" y1="738.0" x2="28.4" y2="889.2" stroke="#333" stroke-width="1.00" />
<line x1="28.4" y1="903.4" x2="28.4" y2="912.2" stroke="#333" stroke-width="1.00" />
<line x1="21.3" y1="891.3" x2="36.9" y2="886.8" stroke="#222" stroke-width="0.90" />
<line x1="21.3" y1="905.9" x2="36.9" y2="901.4" stroke="#222" stroke-width="0.90" />
<line x1="27.9" y1="912.2" x2="341.0" y2="912.2" stroke="#333" stroke-width="1.00" />
<line x1="26.0" y1="778.8" x2="28.4" y2="778.8" stroke="#333" stroke-width="0.80" />
<text x="25.6" y="782.2" font-size="8.40" text-anchor="end" font-weight="bold" fill="#454545" >0.7</text>
<line x1="26.0" y1="845.3" x2="28.4" y2="845.3" stroke="#333" stroke-width="0.80" />
<text x="25.6" y="848.7" font-size="8.40" text-anchor="end" font-weight="bold" fill="#454545" >0.6</text>
<text x="25.0" y="916.4" font-size="8.40" text-anchor="end" font-weight="bold" fill="#454545" >0</text>
<text transform="translate(9.7,825.2) rotate(-90)" font-size="11.35" text-anchor="middle" font-weight="bold" fill="#000" >Entrainment strength (A.U.)</text>
<text x="99.3" y="921.7" font-size="8.55" text-anchor="middle" font-weight="bold" fill="#454545" >0 degree hit</text>
<text x="156.2" y="921.7" font-size="8.55" text-anchor="middle" font-weight="bold" fill="#454545" >missed</text>
<text x="213.0" y="921.7" font-size="8.55" text-anchor="middle" font-weight="bold" fill="#454545" >180 degrees hit</text>
<text x="269.7" y="921.7" font-size="8.55" text-anchor="middle" font-weight="bold" fill="#454545" >missed</text>
<text x="184.4" y="933.3" font-size="11.30" text-anchor="middle" font-weight="bold" fill="#000" >Condition</text>
<path d="M70.9,779.3 L65.7,779.3C64.9,780.8 62.4,785.3 60.7,788.5C58.9,791.6 56.8,795.0 55.2,798.3C53.5,801.6 51.8,805.4 50.8,808.2C49.8,810.9 49.3,812.7 49.3,814.7C49.3,816.8 49.9,818.4 50.8,820.2C51.7,822.0 53.1,823.7 54.5,825.7C56.0,827.7 58.0,830.1 59.6,832.3C61.1,834.5 62.6,836.5 63.9,838.8C65.3,841.2 66.8,843.9 67.7,846.5C68.5,849.1 68.8,851.1 69.0,854.2C69.2,857.3 68.8,861.1 68.8,865.1C68.7,869.1 68.8,876.1 68.8,878.2 L70.9,878.2 Z" fill="#9fe3c2" fill-opacity="0.6" stroke="#86dcb3" stroke-width="0.8"/>
<path d="M70.9,789.1 L66.8,789.1C66.5,790.5 66.1,794.6 65.0,797.2C64.0,799.9 62.2,802.5 60.7,804.9C59.1,807.3 57.0,809.1 55.8,811.5C54.7,813.8 54.5,817.1 53.6,819.1C52.8,821.1 51.6,822.2 50.8,823.5C50.0,824.8 49.1,825.5 49.1,826.8C49.1,828.1 49.8,829.9 50.8,831.2C51.8,832.4 53.5,833.4 55.2,834.5C56.8,835.5 58.8,836.5 60.7,837.7C62.5,839.0 64.7,840.7 66.1,842.1C67.6,843.6 68.6,844.5 69.2,846.5C69.8,848.5 69.8,851.4 69.9,854.2C69.9,856.9 69.7,858.9 69.6,862.9C69.6,866.9 69.6,875.7 69.6,878.2 L70.9,878.2 Z" fill="#4a8f3f" fill-opacity="0.6" stroke="#2f7a2c" stroke-width="0.8"/>
<line x1="75.3" y1="779.3" x2="75.3" y2="801.2" stroke="#86dcb3" stroke-width="0.75" />
<line x1="75.3" y1="821.3" x2="75.3" y2="846.9" stroke="#86dcb3" stroke-width="0.75" />
<rect x="72.0" y="801.2" width="6.6" height="20.1" fill="#9fe3c2" fill-opacity="0.55" stroke="#86dcb3" stroke-width="0.75"/>
<line x1="72.0" y1="812.1" x2="78.6" y2="812.1" stroke="#86dcb3" stroke-width="1.40" />
<line x1="83.4" y1="789.1" x2="83.4" y2="811.7" stroke="#2f7a2c" stroke-width="0.75" />
<line x1="83.4" y1="829.6" x2="83.4" y2="835.5" stroke="#2f7a2c" stroke-width="0.75" />
<rect x="80.4" y="811.7" width="6.1" height="17.9" fill="#4a8f3f" fill-opacity="0.55" stroke="#2f7a2c" stroke-width="0.75"/>
<line x1="80.4" y1="825.2" x2="86.5" y2="825.2" stroke="#2f7a2c" stroke-width="1.40" />
<line x1="285.8" y1="778.0" x2="285.8" y2="809.5" stroke="#ee8a3a" stroke-width="0.75" />
<line x1="285.8" y1="840.1" x2="285.8" y2="850.4" stroke="#ee8a3a" stroke-width="0.75" />
<rect x="283.0" y="809.5" width="5.6" height="30.6" fill="#f0a860" fill-opacity="0.55" stroke="#ee8a3a" stroke-width="0.75"/>
<line x1="283.0" y1="830.6" x2="288.6" y2="830.6" stroke="#ee8a3a" stroke-width="1.40" />
<line x1="293.6" y1="772.9" x2="293.6" y2="804.4" stroke="#75492f" stroke-width="0.75" />
<line x1="293.6" y1="830.6" x2="293.6" y2="846.4" stroke="#75492f" stroke-width="0.75" />
<rect x="290.7" y="804.4" width="5.9" height="26.2" fill="#9c7458" fill-opacity="0.55" stroke="#75492f" stroke-width="0.75"/>
<line x1="290.7" y1="819.6" x2="296.6" y2="819.6" stroke="#75492f" stroke-width="1.40" />
<line x1="97.2" y1="779.3" x2="155.2" y2="814.7" stroke="#808080" stroke-width="0.60" stroke-opacity="0.3"/>
<line x1="96.3" y1="788.0" x2="156.6" y2="789.1" stroke="#808080" stroke-width="0.60" stroke-opacity="0.3"/>
<line x1="97.2" y1="790.0" x2="158.5" y2="792.0" stroke="#808080" stroke-width="0.60" stroke-opacity="0.3"/>
<line x1="101.2" y1="792.8" x2="159.8" y2="801.6" stroke="#808080" stroke-width="0.60" stroke-opacity="0.3"/>
<line x1="97.9" y1="799.0" x2="158.3" y2="803.4" stroke="#808080" stroke-width="0.60" stroke-opacity="0.3"/>
<line x1="99.0" y1="802.0" x2="161.4" y2="810.8" stroke="#808080" stroke-width="0.60" stroke-opacity="0.3"/>
<line x1="96.3" y1="804.5" x2="154.8" y2="811.9" stroke="#808080" stroke-width="0.60" stroke-opacity="0.3"/>
<line x1="97.9" y1="806.4" x2="157.0" y2="813.2" stroke="#808080" stroke-width="0.60" stroke-opacity="0.3"/>
<line x1="101.2" y1="807.7" x2="152.6" y2="815.8" stroke="#808080" stroke-width="0.60" stroke-opacity="0.3"/>
<line x1="99.4" y1="811.9" x2="159.2" y2="814.7" stroke="#808080" stroke-width="0.60" stroke-opacity="0.3"/>
<line x1="100.1" y1="815.8" x2="152.0" y2="825.3" stroke="#808080" stroke-width="0.60" stroke-opacity="0.3"/>
<line x1="97.9" y1="818.0" x2="153.3" y2="826.8" stroke="#808080" stroke-width="0.60" stroke-opacity="0.3"/>
<line x1="104.0" y1="820.2" x2="157.9" y2="862.5" stroke="#808080" stroke-width="0.60" stroke-opacity="0.3"/>
<line x1="100.5" y1="823.5" x2="160.3" y2="825.3" stroke="#808080" stroke-width="0.60" stroke-opacity="0.3"/>
<line x1="103.8" y1="831.6" x2="158.5" y2="828.3" stroke="#808080" stroke-width="0.60" stroke-opacity="0.3"/>
<line x1="99.0" y1="834.9" x2="157.0" y2="831.2" stroke="#808080" stroke-width="0.60" stroke-opacity="0.3"/>
<line x1="94.6" y1="839.3" x2="158.5" y2="832.9" stroke="#808080" stroke-width="0.60" stroke-opacity="0.3"/>
<line x1="103.8" y1="846.9" x2="156.3" y2="835.1" stroke="#808080" stroke-width="0.60" stroke-opacity="0.3"/>
<line x1="102.5" y1="875.2" x2="161.2" y2="878.7" stroke="#808080" stroke-width="0.60" stroke-opacity="0.3"/>
<circle cx="97.2" cy="779.3" r="2.7" fill="#8fdcb7" fill-opacity="0.55"/>
<circle cx="96.3" cy="788.0" r="2.7" fill="#8fdcb7" fill-opacity="0.55"/>
<circle cx="97.2" cy="790.0" r="2.7" fill="#8fdcb7" fill-opacity="0.55"/>
<circle cx="101.2" cy="792.8" r="2.7" fill="#8fdcb7" fill-opacity="0.55"/>
<circle cx="97.9" cy="799.0" r="2.7" fill="#8fdcb7" fill-opacity="0.55"/>
<circle cx="99.0" cy="802.0" r="2.7" fill="#8fdcb7" fill-opacity="0.55"/>
<circle cx="96.3" cy="804.5" r="2.7" fill="#8fdcb7" fill-opacity="0.55"/>
<circle cx="97.9" cy="806.4" r="2.7" fill="#8fdcb7" fill-opacity="0.55"/>
<circle cx="101.2" cy="807.7" r="2.7" fill="#8fdcb7" fill-opacity="0.55"/>
<circle cx="99.4" cy="811.9" r="2.7" fill="#8fdcb7" fill-opacity="0.55"/>
<circle cx="100.1" cy="815.8" r="2.7" fill="#8fdcb7" fill-opacity="0.55"/>
<circle cx="97.9" cy="818.0" r="2.7" fill="#8fdcb7" fill-opacity="0.55"/>
<circle cx="104.0" cy="820.2" r="2.7" fill="#8fdcb7" fill-opacity="0.55"/>
<circle cx="100.5" cy="823.5" r="2.7" fill="#8fdcb7" fill-opacity="0.55"/>
<circle cx="103.8" cy="831.6" r="2.7" fill="#8fdcb7" fill-opacity="0.55"/>
<circle cx="99.0" cy="834.9" r="2.7" fill="#8fdcb7" fill-opacity="0.55"/>
<circle cx="94.6" cy="839.3" r="2.7" fill="#8fdcb7" fill-opacity="0.55"/>
<circle cx="103.8" cy="846.9" r="2.7" fill="#8fdcb7" fill-opacity="0.55"/>
<circle cx="102.5" cy="875.2" r="2.7" fill="#8fdcb7" fill-opacity="0.55"/>
<circle cx="155.2" cy="814.7" r="2.75" fill="#3f8536" fill-opacity="0.6"/>
<circle cx="156.6" cy="789.1" r="2.75" fill="#3f8536" fill-opacity="0.6"/>
<circle cx="158.5" cy="792.0" r="2.75" fill="#3f8536" fill-opacity="0.6"/>
<circle cx="159.8" cy="801.6" r="2.75" fill="#3f8536" fill-opacity="0.6"/>
<circle cx="158.3" cy="803.4" r="2.75" fill="#3f8536" fill-opacity="0.6"/>
<circle cx="161.4" cy="810.8" r="2.75" fill="#3f8536" fill-opacity="0.6"/>
<circle cx="154.8" cy="811.9" r="2.75" fill="#3f8536" fill-opacity="0.6"/>
<circle cx="157.0" cy="813.2" r="2.75" fill="#3f8536" fill-opacity="0.6"/>
<circle cx="152.6" cy="815.8" r="2.75" fill="#3f8536" fill-opacity="0.6"/>
<circle cx="159.2" cy="814.7" r="2.75" fill="#3f8536" fill-opacity="0.6"/>
<circle cx="152.0" cy="825.3" r="2.75" fill="#3f8536" fill-opacity="0.6"/>
<circle cx="153.3" cy="826.8" r="2.75" fill="#3f8536" fill-opacity="0.6"/>
<circle cx="157.9" cy="862.5" r="2.75" fill="#3f8536" fill-opacity="0.6"/>
<circle cx="160.3" cy="825.3" r="2.75" fill="#3f8536" fill-opacity="0.6"/>
<circle cx="158.5" cy="828.3" r="2.75" fill="#3f8536" fill-opacity="0.6"/>
<circle cx="157.0" cy="831.2" r="2.75" fill="#3f8536" fill-opacity="0.6"/>
<circle cx="158.5" cy="832.9" r="2.75" fill="#3f8536" fill-opacity="0.6"/>
<circle cx="156.3" cy="835.1" r="2.75" fill="#3f8536" fill-opacity="0.6"/>
<circle cx="161.2" cy="878.7" r="2.75" fill="#3f8536" fill-opacity="0.6"/>
<line x1="210.6" y1="777.5" x2="270.2" y2="764.7" stroke="#808080" stroke-width="0.60" stroke-opacity="0.32"/>
<line x1="211.1" y1="780.3" x2="266.2" y2="772.9" stroke="#808080" stroke-width="0.60" stroke-opacity="0.32"/>
<line x1="209.7" y1="787.3" x2="274.2" y2="792.7" stroke="#808080" stroke-width="0.60" stroke-opacity="0.32"/>
<line x1="209.2" y1="789.7" x2="265.5" y2="811.4" stroke="#808080" stroke-width="0.60" stroke-opacity="0.32"/>
<line x1="213.6" y1="793.2" x2="273.5" y2="803.9" stroke="#808080" stroke-width="0.60" stroke-opacity="0.32"/>
<line x1="210.4" y1="806.7" x2="270.0" y2="821.2" stroke="#808080" stroke-width="0.60" stroke-opacity="0.32"/>
<line x1="208.0" y1="810.2" x2="267.9" y2="804.4" stroke="#808080" stroke-width="0.60" stroke-opacity="0.32"/>
<line x1="209.0" y1="813.0" x2="268.8" y2="801.4" stroke="#808080" stroke-width="0.60" stroke-opacity="0.32"/>
<line x1="208.5" y1="815.6" x2="271.6" y2="817.2" stroke="#808080" stroke-width="0.60" stroke-opacity="0.32"/>
<line x1="212.2" y1="818.9" x2="266.9" y2="828.9" stroke="#808080" stroke-width="0.60" stroke-opacity="0.32"/>
<line x1="209.0" y1="822.4" x2="270.7" y2="809.5" stroke="#808080" stroke-width="0.60" stroke-opacity="0.32"/>
<line x1="210.8" y1="830.6" x2="265.3" y2="807.4" stroke="#808080" stroke-width="0.60" stroke-opacity="0.32"/>
<line x1="215.5" y1="830.6" x2="273.0" y2="837.6" stroke="#808080" stroke-width="0.60" stroke-opacity="0.32"/>
<line x1="216.9" y1="832.0" x2="270.7" y2="827.8" stroke="#808080" stroke-width="0.60" stroke-opacity="0.32"/>
<line x1="209.0" y1="834.3" x2="266.9" y2="831.3" stroke="#808080" stroke-width="0.60" stroke-opacity="0.32"/>
<line x1="212.7" y1="838.7" x2="274.6" y2="839.9" stroke="#808080" stroke-width="0.60" stroke-opacity="0.32"/>
<line x1="215.0" y1="840.1" x2="274.6" y2="826.1" stroke="#808080" stroke-width="0.60" stroke-opacity="0.32"/>
<line x1="208.5" y1="840.6" x2="271.1" y2="846.7" stroke="#808080" stroke-width="0.60" stroke-opacity="0.32"/>
<line x1="214.6" y1="846.4" x2="274.9" y2="821.9" stroke="#808080" stroke-width="0.60" stroke-opacity="0.32"/>
<line x1="216.9" y1="850.0" x2="273.0" y2="814.2" stroke="#808080" stroke-width="0.60" stroke-opacity="0.32"/>
<line x1="209.0" y1="850.4" x2="273.0" y2="834.3" stroke="#808080" stroke-width="0.60" stroke-opacity="0.32"/>
<circle cx="210.6" cy="777.5" r="2.7" fill="#ee9447" fill-opacity="0.55"/>
<circle cx="211.1" cy="780.3" r="2.7" fill="#ee9447" fill-opacity="0.55"/>
<circle cx="209.7" cy="787.3" r="2.7" fill="#ee9447" fill-opacity="0.55"/>
<circle cx="209.2" cy="789.7" r="2.7" fill="#ee9447" fill-opacity="0.55"/>
<circle cx="213.6" cy="793.2" r="2.7" fill="#ee9447" fill-opacity="0.55"/>
<circle cx="210.4" cy="806.7" r="2.7" fill="#ee9447" fill-opacity="0.55"/>
<circle cx="208.0" cy="810.2" r="2.7" fill="#ee9447" fill-opacity="0.55"/>
<circle cx="209.0" cy="813.0" r="2.7" fill="#ee9447" fill-opacity="0.55"/>
<circle cx="208.5" cy="815.6" r="2.7" fill="#ee9447" fill-opacity="0.55"/>
<circle cx="212.2" cy="818.9" r="2.7" fill="#ee9447" fill-opacity="0.55"/>
<circle cx="209.0" cy="822.4" r="2.7" fill="#ee9447" fill-opacity="0.55"/>
<circle cx="210.8" cy="830.6" r="2.7" fill="#ee9447" fill-opacity="0.55"/>
<circle cx="215.5" cy="830.6" r="2.7" fill="#ee9447" fill-opacity="0.55"/>
<circle cx="216.9" cy="832.0" r="2.7" fill="#ee9447" fill-opacity="0.55"/>
<circle cx="209.0" cy="834.3" r="2.7" fill="#ee9447" fill-opacity="0.55"/>
<circle cx="212.7" cy="838.7" r="2.7" fill="#ee9447" fill-opacity="0.55"/>
<circle cx="215.0" cy="840.1" r="2.7" fill="#ee9447" fill-opacity="0.55"/>
<circle cx="208.5" cy="840.6" r="2.7" fill="#ee9447" fill-opacity="0.55"/>
<circle cx="214.6" cy="846.4" r="2.7" fill="#ee9447" fill-opacity="0.55"/>
<circle cx="216.9" cy="850.0" r="2.7" fill="#ee9447" fill-opacity="0.55"/>
<circle cx="209.0" cy="850.4" r="2.7" fill="#ee9447" fill-opacity="0.55"/>
<circle cx="270.2" cy="764.7" r="2.7" fill="#9c7458" fill-opacity="0.6"/>
<circle cx="266.2" cy="772.9" r="2.7" fill="#9c7458" fill-opacity="0.6"/>
<circle cx="274.2" cy="792.7" r="2.7" fill="#9c7458" fill-opacity="0.6"/>
<circle cx="265.3" cy="807.4" r="2.7" fill="#9c7458" fill-opacity="0.6"/>
<circle cx="265.5" cy="811.4" r="2.7" fill="#9c7458" fill-opacity="0.6"/>
<circle cx="268.8" cy="801.4" r="2.7" fill="#9c7458" fill-opacity="0.6"/>
<circle cx="273.5" cy="803.9" r="2.7" fill="#9c7458" fill-opacity="0.6"/>
<circle cx="267.9" cy="804.4" r="2.7" fill="#9c7458" fill-opacity="0.6"/>
<circle cx="270.7" cy="809.5" r="2.7" fill="#9c7458" fill-opacity="0.6"/>
<circle cx="273.0" cy="814.2" r="2.7" fill="#9c7458" fill-opacity="0.6"/>
<circle cx="271.6" cy="817.2" r="2.7" fill="#9c7458" fill-opacity="0.6"/>
<circle cx="270.0" cy="821.2" r="2.7" fill="#9c7458" fill-opacity="0.6"/>
<circle cx="266.9" cy="828.9" r="2.7" fill="#9c7458" fill-opacity="0.6"/>
<circle cx="274.9" cy="821.9" r="2.7" fill="#9c7458" fill-opacity="0.6"/>
<circle cx="274.6" cy="826.1" r="2.7" fill="#9c7458" fill-opacity="0.6"/>
<circle cx="270.7" cy="827.8" r="2.7" fill="#9c7458" fill-opacity="0.6"/>
<circle cx="266.9" cy="831.3" r="2.7" fill="#9c7458" fill-opacity="0.6"/>
<circle cx="273.0" cy="834.3" r="2.7" fill="#9c7458" fill-opacity="0.6"/>
<circle cx="273.0" cy="837.6" r="2.7" fill="#9c7458" fill-opacity="0.6"/>
<circle cx="274.6" cy="839.9" r="2.7" fill="#9c7458" fill-opacity="0.6"/>
<circle cx="271.1" cy="846.7" r="2.7" fill="#9c7458" fill-opacity="0.6"/>
<circle cx="271.1" cy="840.6" r="2.7" fill="#9c7458" fill-opacity="0.6"/>
<path d="M298.2,777.7 L302.9,777.7C303.4,777.9 305.0,778.0 305.7,779.0C306.4,780.0 306.8,782.0 307.1,784.0C307.4,786.0 307.4,788.1 307.6,790.7C307.8,793.3 308.1,797.1 308.5,799.7C308.9,802.3 309.4,804.2 310.0,806.4C310.6,808.6 311.1,810.7 311.9,813.1C312.7,815.5 313.8,818.5 314.7,820.9C315.6,823.3 316.6,825.5 317.4,827.6C318.2,829.7 319.3,831.5 319.7,833.2C320.1,834.9 320.1,836.1 319.9,837.6C319.7,839.1 319.3,840.6 318.6,842.1C317.9,843.6 316.9,845.2 315.8,846.6C314.7,848.0 312.5,849.9 311.9,850.6 L298.2,850.6 Z" fill="#f0a860" fill-opacity="0.6" stroke="#ee8a3a" stroke-width="0.8"/>
<path d="M298.2,765 L302.4,765.0C302.5,765.8 302.9,767.9 302.9,769.5C302.9,771.1 302.5,772.9 302.4,774.5C302.3,776.1 302.0,777.2 302.2,779.0C302.4,780.8 302.8,783.1 303.5,785.1C304.2,787.1 305.2,788.8 306.3,790.7C307.4,792.6 308.8,794.4 310.2,796.3C311.6,798.2 313.5,800.0 314.7,801.9C315.9,803.8 316.7,805.5 317.4,807.5C318.1,809.5 318.7,811.8 319.1,814.2C319.5,816.6 319.8,819.8 319.9,822.0C320.0,824.2 320.0,825.9 319.9,827.6C319.8,829.3 319.5,830.6 319.1,832.0C318.7,833.4 318.2,834.4 317.4,835.9C316.6,837.4 315.3,839.5 314.1,841.0C312.9,842.5 311.3,844.0 310.2,844.9C309.1,845.8 307.9,846.2 307.4,846.5 L298.2,846.5 Z" fill="#9c6a48" fill-opacity="0.55" stroke="#75492f" stroke-width="0.8"/>
<text x="347.2" y="709.0" font-size="34.00" text-anchor="start" font-weight="normal" fill="#000" >D</text>
<text x="545.6" y="727.8" font-size="17.05" text-anchor="middle" font-weight="bold" fill="#000" >Recall accuracy in each phase bin</text>
<line x1="408.6" y1="734.7" x2="408.6" y2="915.4" stroke="#333" stroke-width="1.00" />
<line x1="408.1" y1="914.9" x2="685.0" y2="914.9" stroke="#333" stroke-width="1.00" />
<line x1="406.4" y1="770.2" x2="408.6" y2="770.2" stroke="#333" stroke-width="0.80" />
<text x="405.6" y="773.2" font-size="8.40" text-anchor="end" font-weight="bold" fill="#454545" >0.75</text>
<line x1="406.4" y1="815.7" x2="408.6" y2="815.7" stroke="#333" stroke-width="0.80" />
<text x="405.6" y="818.7" font-size="8.40" text-anchor="end" font-weight="bold" fill="#454545" >0.50</text>
<line x1="406.4" y1="861.5" x2="408.6" y2="861.5" stroke="#333" stroke-width="0.80" />
<text x="405.6" y="864.5" font-size="8.40" text-anchor="end" font-weight="bold" fill="#454545" >0.25</text>
<line x1="406.4" y1="907.2" x2="408.6" y2="907.2" stroke="#333" stroke-width="0.80" />
<text x="405.6" y="910.2" font-size="8.40" text-anchor="end" font-weight="bold" fill="#454545" >0.00</text>
<text transform="translate(384.8,826.0) rotate(-90)" font-size="11.35" text-anchor="middle" font-weight="bold" fill="#000" >Recall Accuracy (proportion)</text>
<text x="483.6" y="924.3" font-size="8.20" text-anchor="middle" font-weight="bold" fill="#454545" >0 degree</text>
<text x="608.6" y="924.3" font-size="8.30" text-anchor="middle" font-weight="bold" fill="#454545" >180 degrees</text>
<text x="545.7" y="936.5" font-size="11.35" text-anchor="middle" font-weight="bold" fill="#000" >centred phase angle</text>
<path d="M496.3,759.1 L496.4,759.1 L496.6,759.9 L496.8,760.7 L497.1,761.5 L497.4,762.3 L497.6,763.1 L497.9,763.9 L498.2,764.7 L498.4,765.5 L498.7,766.3 L499.0,767.1 L499.3,767.9 L499.5,768.7 L499.8,769.5 L500.2,770.3 L500.5,771.1 L500.8,771.9 L501.2,772.7 L501.6,773.5 L502.0,774.3 L502.4,775.1 L502.8,775.9 L503.3,776.7 L503.8,777.5 L504.3,778.3 L504.8,779.1 L505.4,779.9 L506.0,780.7 L506.6,781.5 L507.3,782.3 L508.0,783.1 L508.8,783.9 L509.6,784.7 L510.4,785.5 L511.2,786.3 L512.0,787.1 L512.9,787.9 L513.8,788.7 L514.7,789.5 L515.6,790.3 L516.6,791.1 L517.5,791.9 L518.4,792.7 L519.3,793.5 L520.3,794.3 L521.2,795.1 L522.1,795.9 L523.0,796.7 L523.9,797.5 L524.8,798.3 L525.7,799.1 L526.6,799.9 L527.5,800.7 L528.4,801.5 L529.3,802.3 L530.2,803.1 L531.1,803.9 L532.0,804.7 L532.9,805.5 L533.8,806.3 L534.6,807.1 L535.5,807.9 L536.4,808.7 L537.2,809.5 L538.0,810.3 L538.8,811.1 L539.4,811.9 L540.1,812.7 L540.6,813.5 L541.2,814.3 L541.6,815.1 L541.9,815.9 L542.1,816.7 L542.2,817.5 L542.2,818.3 L542.1,819.1 L541.9,819.9 L541.6,820.7 L541.3,821.5 L541.0,822.3 L540.5,823.1 L540.0,823.9 L539.5,824.7 L538.9,825.5 L538.3,826.3 L537.6,827.1 L536.9,827.9 L536.2,828.7 L535.5,829.5 L534.8,830.3 L534.0,831.1 L533.3,831.9 L532.5,832.7 L531.7,833.5 L530.8,834.3 L530.0,835.1 L529.1,835.9 L528.1,836.7 L527.2,837.5 L526.2,838.3 L525.1,839.1 L524.1,839.9 L523.0,840.7 L521.9,841.5 L520.8,842.3 L519.7,843.1 L518.6,843.9 L517.4,844.7 L516.3,845.5 L515.1,846.3 L514.0,847.1 L512.8,847.9 L511.7,848.7 L510.6,849.5 L509.5,850.3 L508.4,851.1 L507.4,851.9 L506.4,852.7 L505.4,853.5 L504.5,854.3 L503.7,855.1 L502.9,855.9 L502.1,856.7 L501.4,857.5 L500.7,858.3 L500.0,859.1 L499.3,859.9 L498.6,860.7 L498.0,861.5 L497.6,862.3 L496.3,863.0 Z" fill="#a5dac2"/>
<path d="M621.1,752.7 L621.1,752.7 L621.2,753.5 L621.3,754.3 L621.4,755.1 L621.5,755.9 L621.6,756.7 L621.7,757.5 L621.8,758.3 L622.0,759.1 L622.1,759.9 L622.2,760.7 L622.3,761.5 L622.4,762.3 L622.6,763.1 L622.7,763.9 L622.8,764.7 L622.9,765.5 L623.1,766.3 L623.2,767.1 L623.4,767.9 L623.5,768.7 L623.7,769.5 L623.9,770.3 L624.0,771.1 L624.2,771.9 L624.4,772.7 L624.6,773.5 L624.9,774.3 L625.1,775.1 L625.3,775.9 L625.6,776.7 L625.8,777.5 L626.1,778.3 L626.4,779.1 L626.7,779.9 L627.0,780.7 L627.4,781.5 L627.7,782.3 L628.1,783.1 L628.5,783.9 L628.9,784.7 L629.3,785.5 L629.8,786.3 L630.3,787.1 L630.8,787.9 L631.4,788.7 L632.0,789.5 L632.7,790.3 L633.3,791.1 L634.0,791.9 L634.7,792.7 L635.4,793.5 L636.2,794.3 L636.9,795.1 L637.7,795.9 L638.4,796.7 L639.2,797.5 L640.0,798.3 L640.8,799.1 L641.7,799.9 L642.5,800.7 L643.4,801.5 L644.2,802.3 L645.1,803.1 L645.9,803.9 L646.8,804.7 L647.7,805.5 L648.6,806.3 L649.5,807.1 L650.4,807.9 L651.2,808.7 L652.1,809.5 L653.1,810.3 L654.0,811.1 L654.9,811.9 L655.8,812.7 L656.7,813.5 L657.6,814.3 L658.4,815.1 L659.3,815.9 L660.1,816.7 L660.9,817.5 L661.6,818.3 L662.4,819.1 L663.1,819.9 L663.8,820.7 L664.4,821.5 L664.9,822.3 L665.5,823.1 L666.0,823.9 L666.5,824.7 L666.9,825.5 L667.2,826.3 L667.5,827.1 L667.6,827.9 L667.6,828.7 L667.5,829.5 L667.3,830.3 L667.2,831.1 L667.0,831.9 L666.7,832.7 L666.4,833.5 L666.1,834.3 L665.7,835.1 L665.2,835.9 L664.7,836.7 L664.1,837.5 L663.5,838.3 L662.9,839.1 L662.3,839.9 L661.7,840.7 L661.0,841.5 L660.3,842.3 L659.6,843.1 L658.9,843.9 L658.1,844.7 L657.3,845.5 L656.5,846.3 L655.7,847.1 L654.9,847.9 L654.0,848.7 L653.1,849.5 L652.2,850.3 L651.3,851.1 L650.4,851.9 L649.4,852.7 L648.5,853.5 L647.5,854.3 L646.6,855.1 L645.6,855.9 L644.6,856.7 L643.6,857.5 L642.6,858.3 L641.7,859.1 L640.7,859.9 L639.7,860.7 L638.7,861.5 L637.7,862.3 L636.7,863.1 L635.7,863.9 L634.8,864.7 L633.8,865.5 L632.8,866.3 L631.9,867.1 L630.9,867.9 L630.0,868.7 L629.1,869.5 L628.2,870.3 L627.3,871.1 L626.4,871.9 L625.6,872.7 L624.8,873.5 L623.9,874.3 L623.1,875.1 L622.4,875.9 L621.9,876.7 L621.1,876.8 Z" fill="#e5b49c"/>
<line x1="480.7" y1="781.5" x2="598.7" y2="775.3" stroke="#7a7a7a" stroke-width="0.60" stroke-opacity="0.3"/>
<line x1="493.3" y1="788.9" x2="617.6" y2="815.5" stroke="#7a7a7a" stroke-width="0.60" stroke-opacity="0.3"/>
<line x1="474.0" y1="792.6" x2="602.7" y2="818.6" stroke="#7a7a7a" stroke-width="0.60" stroke-opacity="0.3"/>
<line x1="476.3" y1="792.9" x2="608.4" y2="812.9" stroke="#7a7a7a" stroke-width="0.60" stroke-opacity="0.3"/>
<line x1="472.3" y1="805.5" x2="603.8" y2="823.5" stroke="#7a7a7a" stroke-width="0.60" stroke-opacity="0.3"/>
<line x1="476.6" y1="804.3" x2="607.6" y2="804.8" stroke="#7a7a7a" stroke-width="0.60" stroke-opacity="0.3"/>
<line x1="481.0" y1="806.4" x2="610.7" y2="829.0" stroke="#7a7a7a" stroke-width="0.60" stroke-opacity="0.3"/>
<line x1="487.5" y1="805.5" x2="609.9" y2="823.2" stroke="#7a7a7a" stroke-width="0.60" stroke-opacity="0.3"/>
<line x1="475.8" y1="809.9" x2="611.4" y2="821.6" stroke="#7a7a7a" stroke-width="0.60" stroke-opacity="0.3"/>
<line x1="495.0" y1="814.8" x2="604.5" y2="818.3" stroke="#7a7a7a" stroke-width="0.60" stroke-opacity="0.3"/>
<line x1="493.3" y1="817.5" x2="606.1" y2="833.6" stroke="#7a7a7a" stroke-width="0.60" stroke-opacity="0.3"/>
<line x1="488.0" y1="817.5" x2="616.8" y2="829.3" stroke="#7a7a7a" stroke-width="0.60" stroke-opacity="0.3"/>
<line x1="486.3" y1="821.0" x2="600.4" y2="837.7" stroke="#7a7a7a" stroke-width="0.60" stroke-opacity="0.3"/>
<line x1="480.1" y1="823.1" x2="605.3" y2="802.9" stroke="#7a7a7a" stroke-width="0.60" stroke-opacity="0.3"/>
<line x1="482.8" y1="825.0" x2="609.6" y2="837.7" stroke="#7a7a7a" stroke-width="0.60" stroke-opacity="0.3"/>
<line x1="485.4" y1="828.5" x2="596.1" y2="834.2" stroke="#7a7a7a" stroke-width="0.60" stroke-opacity="0.3"/>
<line x1="488.9" y1="828.8" x2="614.0" y2="850.5" stroke="#7a7a7a" stroke-width="0.60" stroke-opacity="0.3"/>
<line x1="494.2" y1="822.2" x2="616.8" y2="846.9" stroke="#7a7a7a" stroke-width="0.60" stroke-opacity="0.3"/>
<line x1="487.2" y1="835.3" x2="596.4" y2="854.1" stroke="#7a7a7a" stroke-width="0.60" stroke-opacity="0.3"/>
<line x1="477.5" y1="841.1" x2="607.9" y2="843.1" stroke="#7a7a7a" stroke-width="0.60" stroke-opacity="0.3"/>
<line x1="488.4" y1="841.1" x2="615.7" y2="839.7" stroke="#7a7a7a" stroke-width="0.60" stroke-opacity="0.3"/>
<line x1="494.2" y1="829.7" x2="606.3" y2="820.0" stroke="#7a7a7a" stroke-width="0.60" stroke-opacity="0.3"/>
<line x1="491.0" y1="811.0" x2="616.5" y2="850.5" stroke="#7a7a7a" stroke-width="0.60" stroke-opacity="0.3"/>
<line x1="484.0" y1="818.5" x2="615.6" y2="810.1" stroke="#7a7a7a" stroke-width="0.60" stroke-opacity="0.3"/>
<circle cx="480.7" cy="781.5" r="3.3" fill="#6fc49d" fill-opacity="0.55"/>
<circle cx="493.3" cy="788.9" r="3.3" fill="#6fc49d" fill-opacity="0.55"/>
<circle cx="474.0" cy="792.6" r="3.3" fill="#6fc49d" fill-opacity="0.55"/>
<circle cx="476.3" cy="792.9" r="3.3" fill="#6fc49d" fill-opacity="0.55"/>
<circle cx="472.3" cy="805.5" r="3.3" fill="#6fc49d" fill-opacity="0.55"/>
<circle cx="476.6" cy="804.3" r="3.3" fill="#6fc49d" fill-opacity="0.55"/>
<circle cx="481.0" cy="806.4" r="3.3" fill="#6fc49d" fill-opacity="0.55"/>
<circle cx="487.5" cy="805.5" r="3.3" fill="#6fc49d" fill-opacity="0.55"/>
<circle cx="475.8" cy="809.9" r="3.3" fill="#6fc49d" fill-opacity="0.55"/>
<circle cx="495.0" cy="814.8" r="3.3" fill="#6fc49d" fill-opacity="0.55"/>
<circle cx="493.3" cy="817.5" r="3.3" fill="#6fc49d" fill-opacity="0.55"/>
<circle cx="488.0" cy="817.5" r="3.3" fill="#6fc49d" fill-opacity="0.55"/>
<circle cx="486.3" cy="821.0" r="3.3" fill="#6fc49d" fill-opacity="0.55"/>
<circle cx="480.1" cy="823.1" r="3.3" fill="#6fc49d" fill-opacity="0.55"/>
<circle cx="482.8" cy="825.0" r="3.3" fill="#6fc49d" fill-opacity="0.55"/>
<circle cx="485.4" cy="828.5" r="3.3" fill="#6fc49d" fill-opacity="0.55"/>
<circle cx="488.9" cy="828.8" r="3.3" fill="#6fc49d" fill-opacity="0.55"/>
<circle cx="494.2" cy="822.2" r="3.3" fill="#6fc49d" fill-opacity="0.55"/>
<circle cx="487.2" cy="835.3" r="3.3" fill="#6fc49d" fill-opacity="0.55"/>
<circle cx="477.5" cy="841.1" r="3.3" fill="#6fc49d" fill-opacity="0.55"/>
<circle cx="488.4" cy="841.1" r="3.3" fill="#6fc49d" fill-opacity="0.55"/>
<circle cx="494.2" cy="829.7" r="3.3" fill="#6fc49d" fill-opacity="0.55"/>
<circle cx="491.0" cy="811.0" r="3.3" fill="#6fc49d" fill-opacity="0.55"/>
<circle cx="484.0" cy="818.5" r="3.3" fill="#6fc49d" fill-opacity="0.55"/>
<circle cx="598.7" cy="775.3" r="3.3" fill="#d98560" fill-opacity="0.6"/>
<circle cx="605.3" cy="802.9" r="3.3" fill="#d98560" fill-opacity="0.6"/>
<circle cx="607.6" cy="804.8" r="3.3" fill="#d98560" fill-opacity="0.6"/>
<circle cx="615.6" cy="810.1" r="3.3" fill="#d98560" fill-opacity="0.6"/>
<circle cx="608.4" cy="812.9" r="3.3" fill="#d98560" fill-opacity="0.6"/>
<circle cx="617.6" cy="815.5" r="3.3" fill="#d98560" fill-opacity="0.6"/>
<circle cx="602.7" cy="818.6" r="3.3" fill="#d98560" fill-opacity="0.6"/>
<circle cx="604.5" cy="818.3" r="3.3" fill="#d98560" fill-opacity="0.6"/>
<circle cx="603.8" cy="823.5" r="3.3" fill="#d98560" fill-opacity="0.6"/>
<circle cx="611.4" cy="821.6" r="3.3" fill="#d98560" fill-opacity="0.6"/>
<circle cx="609.9" cy="823.2" r="3.3" fill="#d98560" fill-opacity="0.6"/>
<circle cx="610.7" cy="829.0" r="3.3" fill="#d98560" fill-opacity="0.6"/>
<circle cx="616.8" cy="829.3" r="3.3" fill="#d98560" fill-opacity="0.6"/>
<circle cx="596.1" cy="834.2" r="3.3" fill="#d98560" fill-opacity="0.6"/>
<circle cx="606.1" cy="833.6" r="3.3" fill="#d98560" fill-opacity="0.6"/>
<circle cx="600.4" cy="837.7" r="3.3" fill="#d98560" fill-opacity="0.6"/>
<circle cx="609.6" cy="837.7" r="3.3" fill="#d98560" fill-opacity="0.6"/>
<circle cx="615.7" cy="839.7" r="3.3" fill="#d98560" fill-opacity="0.6"/>
<circle cx="607.9" cy="843.1" r="3.3" fill="#d98560" fill-opacity="0.6"/>
<circle cx="616.8" cy="846.9" r="3.3" fill="#d98560" fill-opacity="0.6"/>
<circle cx="614.0" cy="850.5" r="3.3" fill="#d98560" fill-opacity="0.6"/>
<circle cx="616.5" cy="850.5" r="3.3" fill="#d98560" fill-opacity="0.6"/>
<circle cx="596.4" cy="854.1" r="3.3" fill="#d98560" fill-opacity="0.6"/>
<circle cx="606.3" cy="820.0" r="3.3" fill="#d98560" fill-opacity="0.6"/>
<line x1="496.4" y1="781.5" x2="496.4" y2="840.8" stroke="#444" stroke-width="0.90" />
<rect x="489.9" y="805.4" width="12.7" height="21.2" fill="#6fc49d" fill-opacity="0.15" stroke="#333" stroke-width="0.85"/>
<line x1="489.9" y1="817.3" x2="502.6" y2="817.3" stroke="#222" stroke-width="1.40" />
<line x1="620.9" y1="803.2" x2="620.9" y2="853.8" stroke="#999" stroke-width="0.90" />
<rect x="614.5" y="817" width="13" height="21.5" fill="#d98560" fill-opacity="0.3" stroke="#333" stroke-width="0.85"/>
<line x1="614.5" y1="826.2" x2="627.5" y2="826.2" stroke="#222" stroke-width="1.40" />
<line x1="483.5" y1="914.9" x2="483.5" y2="916.6" stroke="#333" stroke-width="0.80" />
<line x1="608.6" y1="914.9" x2="608.6" y2="916.6" stroke="#333" stroke-width="0.80" />
</svg>
</body></html>
